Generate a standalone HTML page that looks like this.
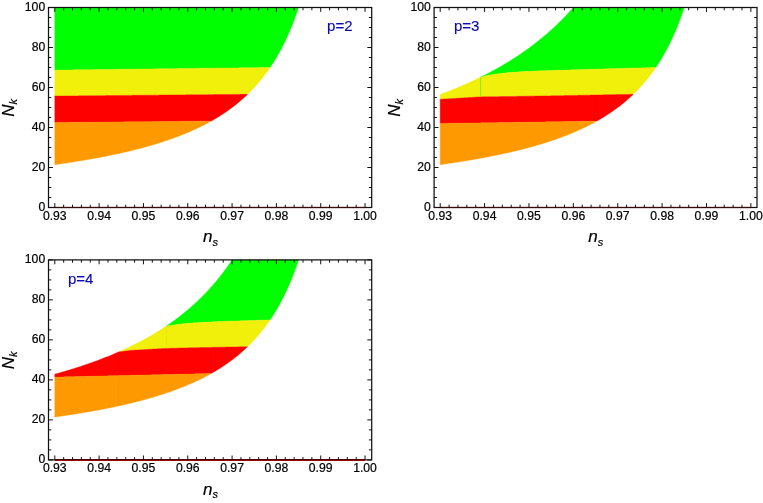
<!DOCTYPE html>
<html><head><meta charset="utf-8"><title>Nk vs ns</title>
<style>
html,body{margin:0;padding:0;background:#fff;}
body{width:763px;height:503px;overflow:hidden;font-family:"Liberation Sans",sans-serif;}
svg{display:block;will-change:transform;opacity:0.999;}
text{font-family:"Liberation Sans",sans-serif;fill:#000;stroke:#000;stroke-width:0.2px;}
.tl{font-size:12.2px;}
.al{font-size:17px;font-style:italic;}
.sub{font-size:11px;}
.pl{font-size:15px;fill:#0a0ab0;stroke:#0a0ab0;stroke-width:0.15px;}
</style></head><body>
<svg width="763" height="503" viewBox="0 0 763 503">
<rect width="763" height="503" fill="#ffffff"/>
<path d="M54.80,7.50 L55.41,7.50 L56.03,7.50 L56.64,7.50 L57.25,7.50 L57.87,7.50 L58.48,7.50 L59.09,7.50 L59.71,7.50 L60.32,7.50 L60.93,7.50 L61.54,7.50 L62.16,7.50 L62.77,7.50 L63.38,7.50 L64.00,7.50 L64.61,7.50 L65.22,7.50 L65.84,7.50 L66.45,7.50 L67.06,7.50 L67.68,7.50 L68.29,7.50 L68.90,7.50 L69.52,7.50 L70.13,7.50 L70.74,7.50 L71.36,7.50 L71.97,7.50 L72.58,7.50 L73.19,7.50 L73.81,7.50 L74.42,7.50 L75.03,7.50 L75.65,7.50 L76.26,7.50 L76.87,7.50 L77.49,7.50 L78.10,7.50 L78.71,7.50 L79.33,7.50 L79.94,7.50 L80.55,7.50 L81.17,7.50 L81.78,7.50 L82.39,7.50 L83.00,7.50 L83.62,7.50 L84.23,7.50 L84.84,7.50 L85.46,7.50 L86.07,7.50 L86.68,7.50 L87.30,7.50 L87.91,7.50 L88.52,7.50 L89.14,7.50 L89.75,7.50 L90.36,7.50 L90.98,7.50 L91.59,7.50 L92.20,7.50 L92.82,7.50 L93.43,7.50 L94.04,7.50 L94.65,7.50 L95.27,7.50 L95.88,7.50 L96.49,7.50 L97.11,7.50 L97.72,7.50 L98.33,7.50 L98.95,7.50 L99.56,7.50 L100.17,7.50 L100.79,7.50 L101.40,7.50 L102.01,7.50 L102.63,7.50 L103.24,7.50 L103.85,7.50 L104.47,7.50 L105.08,7.50 L105.69,7.50 L106.30,7.50 L106.92,7.50 L107.53,7.50 L108.14,7.50 L108.76,7.50 L109.37,7.50 L109.98,7.50 L110.60,7.50 L111.21,7.50 L111.82,7.50 L112.44,7.50 L113.05,7.50 L113.66,7.50 L114.28,7.50 L114.89,7.50 L115.50,7.50 L116.11,7.50 L116.73,7.50 L117.34,7.50 L117.95,7.50 L118.57,7.50 L119.18,7.50 L119.79,7.50 L120.41,7.50 L121.02,7.50 L121.63,7.50 L122.25,7.50 L122.86,7.50 L123.47,7.50 L124.09,7.50 L124.70,7.50 L125.31,7.50 L125.93,7.50 L126.54,7.50 L127.15,7.50 L127.76,7.50 L128.38,7.50 L128.99,7.50 L129.60,7.50 L130.22,7.50 L130.83,7.50 L131.44,7.50 L132.06,7.50 L132.67,7.50 L133.28,7.50 L133.90,7.50 L134.51,7.50 L135.12,7.50 L135.74,7.50 L136.35,7.50 L136.96,7.50 L137.58,7.50 L138.19,7.50 L138.80,7.50 L139.41,7.50 L140.03,7.50 L140.64,7.50 L141.25,7.50 L141.87,7.50 L142.48,7.50 L143.09,7.50 L143.71,7.50 L144.32,7.50 L144.93,7.50 L145.55,7.50 L146.16,7.50 L146.77,7.50 L147.39,7.50 L148.00,7.50 L148.61,7.50 L149.22,7.50 L149.84,7.50 L150.45,7.50 L151.06,7.50 L151.68,7.50 L152.29,7.50 L152.90,7.50 L153.52,7.50 L154.13,7.50 L154.74,7.50 L155.36,7.50 L155.97,7.50 L156.58,7.50 L157.20,7.50 L157.81,7.50 L158.42,7.50 L159.04,7.50 L159.65,7.50 L160.26,7.50 L160.87,7.50 L161.49,7.50 L162.10,7.50 L162.71,7.50 L163.33,7.50 L163.94,7.50 L164.55,7.50 L165.17,7.50 L165.78,7.50 L166.39,7.50 L167.01,7.50 L167.62,7.50 L168.23,7.50 L168.85,7.50 L169.46,7.50 L170.07,7.50 L170.69,7.50 L171.30,7.50 L171.91,7.50 L172.52,7.50 L173.14,7.50 L173.75,7.50 L174.36,7.50 L174.98,7.50 L175.59,7.50 L176.20,7.50 L176.82,7.50 L177.43,7.50 L178.04,7.50 L178.66,7.50 L179.27,7.50 L179.88,7.50 L180.50,7.50 L181.11,7.50 L181.72,7.50 L182.33,7.50 L182.95,7.50 L183.56,7.50 L184.17,7.50 L184.79,7.50 L185.40,7.50 L186.01,7.50 L186.63,7.50 L187.24,7.50 L187.85,7.50 L188.47,7.50 L189.08,7.50 L189.69,7.50 L190.31,7.50 L190.92,7.50 L191.53,7.50 L192.15,7.50 L192.76,7.50 L193.37,7.50 L193.98,7.50 L194.60,7.50 L195.21,7.50 L195.82,7.50 L196.44,7.50 L197.05,7.50 L197.66,7.50 L198.28,7.50 L198.89,7.50 L199.50,7.50 L200.12,7.50 L200.73,7.50 L201.34,7.50 L201.96,7.50 L202.57,7.50 L203.18,7.50 L203.80,7.50 L204.41,7.50 L205.02,7.50 L205.63,7.50 L206.25,7.50 L206.86,7.50 L207.47,7.50 L208.09,7.50 L208.70,7.50 L209.31,7.50 L209.93,7.50 L210.54,7.50 L211.15,7.50 L211.77,7.50 L212.38,7.50 L212.99,7.50 L213.61,7.50 L214.22,7.50 L214.83,7.50 L215.45,7.50 L216.06,7.50 L216.67,7.50 L217.28,7.50 L217.90,7.50 L218.51,7.50 L219.12,7.50 L219.74,7.50 L220.35,7.50 L220.96,7.50 L221.58,7.50 L222.19,7.50 L222.80,7.50 L223.42,7.50 L224.03,7.50 L224.64,7.50 L225.26,7.50 L225.87,7.50 L226.48,7.50 L227.09,7.50 L227.71,7.50 L228.32,7.50 L228.93,7.50 L229.55,7.50 L230.16,7.50 L230.77,7.50 L231.39,7.50 L232.00,7.50 L232.61,7.50 L233.23,7.50 L233.84,7.50 L234.45,7.50 L235.07,7.50 L235.68,7.50 L236.29,7.50 L236.91,7.50 L237.52,7.50 L238.13,7.50 L238.74,7.50 L239.36,7.50 L239.97,7.50 L240.58,7.50 L241.20,7.50 L241.81,7.50 L242.42,7.50 L243.04,7.50 L243.65,7.50 L244.26,7.50 L244.88,7.50 L245.49,7.50 L246.10,7.50 L246.72,7.50 L247.33,7.50 L247.94,7.50 L248.56,7.50 L249.17,7.50 L249.78,7.50 L250.39,7.50 L251.01,7.50 L251.62,7.50 L252.23,7.50 L252.85,7.50 L253.46,7.50 L254.07,7.50 L254.69,7.50 L255.30,7.50 L255.91,7.50 L256.53,7.50 L257.14,7.50 L257.75,7.50 L258.37,7.50 L258.98,7.50 L259.59,7.50 L260.20,7.50 L260.82,7.50 L261.43,7.50 L262.04,7.50 L262.66,7.50 L263.27,7.50 L263.88,7.50 L264.50,7.50 L265.11,7.50 L265.72,7.50 L266.34,7.50 L266.95,7.50 L267.56,7.50 L268.18,7.50 L268.79,7.50 L269.40,7.50 L270.02,7.50 L270.63,7.50 L271.24,7.50 L271.85,7.50 L272.47,7.50 L273.08,7.50 L273.69,7.50 L274.31,7.50 L274.92,7.50 L275.53,7.50 L276.15,7.50 L276.76,7.50 L277.37,7.50 L277.99,7.50 L278.60,7.50 L279.21,7.50 L279.83,7.50 L280.44,7.50 L281.05,7.50 L281.67,7.50 L282.28,7.50 L282.89,7.50 L283.50,7.50 L284.12,7.50 L284.73,7.50 L285.34,7.50 L285.96,7.50 L286.57,7.50 L287.18,7.50 L287.80,7.50 L288.41,7.50 L289.02,7.50 L289.64,7.50 L290.25,7.50 L290.86,7.50 L291.48,7.50 L292.09,7.50 L292.70,7.50 L293.31,7.50 L293.93,7.50 L294.54,7.50 L295.15,7.50 L295.77,7.50 L296.38,7.50 L296.99,7.50 L297.61,7.50 L298.22,7.50 L298.22,8.52 L297.61,10.33 L296.99,12.10 L296.38,13.85 L295.77,15.56 L295.15,17.25 L294.54,18.90 L293.93,20.53 L293.31,22.13 L292.70,23.70 L292.09,25.24 L291.48,26.76 L290.86,28.25 L290.25,29.72 L289.64,31.17 L289.02,32.59 L288.41,33.99 L287.80,35.37 L287.18,36.72 L286.57,38.06 L285.96,39.37 L285.34,40.67 L284.73,41.94 L284.12,43.19 L283.50,44.43 L282.89,45.65 L282.28,46.85 L281.67,48.03 L281.05,49.19 L280.44,50.34 L279.83,51.47 L279.21,52.58 L278.60,53.68 L277.99,54.77 L277.37,55.84 L276.76,56.89 L276.15,57.93 L275.53,58.95 L274.92,59.96 L274.31,60.96 L273.69,61.94 L273.08,62.91 L272.47,63.87 L271.85,64.82 L271.24,65.75 L270.63,66.67 L270.02,67.50 L269.40,67.51 L268.79,67.52 L268.18,67.52 L267.56,67.53 L266.95,67.54 L266.34,67.55 L265.72,67.55 L265.11,67.56 L264.50,67.57 L263.88,67.58 L263.27,67.58 L262.66,67.59 L262.04,67.60 L261.43,67.61 L260.82,67.61 L260.20,67.62 L259.59,67.63 L258.98,67.64 L258.37,67.64 L257.75,67.65 L257.14,67.66 L256.53,67.66 L255.91,67.67 L255.30,67.68 L254.69,67.69 L254.07,67.69 L253.46,67.70 L252.85,67.71 L252.23,67.72 L251.62,67.72 L251.01,67.73 L250.39,67.74 L249.78,67.75 L249.17,67.75 L248.56,67.76 L247.94,67.77 L247.33,67.78 L246.72,67.78 L246.10,67.79 L245.49,67.80 L244.88,67.81 L244.26,67.81 L243.65,67.82 L243.04,67.83 L242.42,67.84 L241.81,67.84 L241.20,67.85 L240.58,67.86 L239.97,67.86 L239.36,67.87 L238.74,67.88 L238.13,67.89 L237.52,67.89 L236.91,67.90 L236.29,67.91 L235.68,67.92 L235.07,67.92 L234.45,67.93 L233.84,67.94 L233.23,67.95 L232.61,67.95 L232.00,67.96 L231.39,67.97 L230.77,67.98 L230.16,67.98 L229.55,67.99 L228.93,68.00 L228.32,68.01 L227.71,68.01 L227.09,68.02 L226.48,68.03 L225.87,68.04 L225.26,68.04 L224.64,68.05 L224.03,68.06 L223.42,68.06 L222.80,68.07 L222.19,68.08 L221.58,68.09 L220.96,68.09 L220.35,68.10 L219.74,68.11 L219.12,68.12 L218.51,68.12 L217.90,68.13 L217.28,68.14 L216.67,68.15 L216.06,68.15 L215.45,68.16 L214.83,68.17 L214.22,68.18 L213.61,68.18 L212.99,68.19 L212.38,68.20 L211.77,68.21 L211.15,68.21 L210.54,68.22 L209.93,68.23 L209.31,68.23 L208.70,68.24 L208.09,68.25 L207.47,68.26 L206.86,68.26 L206.25,68.27 L205.63,68.28 L205.02,68.29 L204.41,68.29 L203.80,68.30 L203.18,68.31 L202.57,68.32 L201.96,68.32 L201.34,68.33 L200.73,68.34 L200.12,68.35 L199.50,68.35 L198.89,68.36 L198.28,68.37 L197.66,68.38 L197.05,68.38 L196.44,68.39 L195.82,68.40 L195.21,68.41 L194.60,68.41 L193.98,68.42 L193.37,68.43 L192.76,68.43 L192.15,68.44 L191.53,68.45 L190.92,68.46 L190.31,68.46 L189.69,68.47 L189.08,68.48 L188.47,68.49 L187.85,68.49 L187.24,68.50 L186.63,68.51 L186.01,68.52 L185.40,68.52 L184.79,68.53 L184.17,68.54 L183.56,68.55 L182.95,68.55 L182.33,68.56 L181.72,68.57 L181.11,68.58 L180.50,68.58 L179.88,68.59 L179.27,68.60 L178.66,68.60 L178.04,68.61 L177.43,68.62 L176.82,68.63 L176.20,68.63 L175.59,68.64 L174.98,68.65 L174.36,68.66 L173.75,68.66 L173.14,68.67 L172.52,68.68 L171.91,68.69 L171.30,68.69 L170.69,68.70 L170.07,68.71 L169.46,68.72 L168.85,68.72 L168.23,68.73 L167.62,68.74 L167.01,68.75 L166.39,68.75 L165.78,68.76 L165.17,68.77 L164.55,68.78 L163.94,68.78 L163.33,68.79 L162.71,68.80 L162.10,68.80 L161.49,68.81 L160.87,68.82 L160.26,68.83 L159.65,68.83 L159.04,68.84 L158.42,68.85 L157.81,68.86 L157.20,68.86 L156.58,68.87 L155.97,68.88 L155.36,68.89 L154.74,68.89 L154.13,68.90 L153.52,68.91 L152.90,68.92 L152.29,68.92 L151.68,68.93 L151.06,68.94 L150.45,68.95 L149.84,68.95 L149.22,68.96 L148.61,68.97 L148.00,68.98 L147.39,68.98 L146.77,68.99 L146.16,69.00 L145.55,69.00 L144.93,69.01 L144.32,69.02 L143.71,69.03 L143.09,69.03 L142.48,69.04 L141.87,69.05 L141.25,69.06 L140.64,69.06 L140.03,69.07 L139.41,69.08 L138.80,69.09 L138.19,69.09 L137.58,69.10 L136.96,69.11 L136.35,69.12 L135.74,69.12 L135.12,69.13 L134.51,69.14 L133.90,69.15 L133.28,69.15 L132.67,69.16 L132.06,69.17 L131.44,69.17 L130.83,69.18 L130.22,69.19 L129.60,69.20 L128.99,69.20 L128.38,69.21 L127.76,69.22 L127.15,69.23 L126.54,69.23 L125.93,69.24 L125.31,69.25 L124.70,69.26 L124.09,69.26 L123.47,69.27 L122.86,69.28 L122.25,69.29 L121.63,69.29 L121.02,69.30 L120.41,69.31 L119.79,69.32 L119.18,69.32 L118.57,69.33 L117.95,69.34 L117.34,69.35 L116.73,69.35 L116.11,69.36 L115.50,69.37 L114.89,69.37 L114.28,69.38 L113.66,69.39 L113.05,69.40 L112.44,69.40 L111.82,69.41 L111.21,69.42 L110.60,69.43 L109.98,69.43 L109.37,69.44 L108.76,69.45 L108.14,69.46 L107.53,69.46 L106.92,69.47 L106.30,69.48 L105.69,69.49 L105.08,69.49 L104.47,69.50 L103.85,69.51 L103.24,69.52 L102.63,69.52 L102.01,69.53 L101.40,69.54 L100.79,69.54 L100.17,69.55 L99.56,69.56 L98.95,69.57 L98.33,69.57 L97.72,69.58 L97.11,69.59 L96.49,69.60 L95.88,69.60 L95.27,69.61 L94.65,69.62 L94.04,69.63 L93.43,69.63 L92.82,69.64 L92.20,69.65 L91.59,69.66 L90.98,69.66 L90.36,69.67 L89.75,69.68 L89.14,69.69 L88.52,69.69 L87.91,69.70 L87.30,69.71 L86.68,69.72 L86.07,69.72 L85.46,69.73 L84.84,69.74 L84.23,69.74 L83.62,69.75 L83.00,69.76 L82.39,69.77 L81.78,69.77 L81.17,69.78 L80.55,69.79 L79.94,69.80 L79.33,69.80 L78.71,69.81 L78.10,69.82 L77.49,69.83 L76.87,69.83 L76.26,69.84 L75.65,69.85 L75.03,69.86 L74.42,69.86 L73.81,69.87 L73.19,69.88 L72.58,69.89 L71.97,69.89 L71.36,69.90 L70.74,69.91 L70.13,69.91 L69.52,69.92 L68.90,69.93 L68.29,69.94 L67.68,69.94 L67.06,69.95 L66.45,69.96 L65.84,69.97 L65.22,69.97 L64.61,69.98 L64.00,69.99 L63.38,70.00 L62.77,70.00 L62.16,70.01 L61.54,70.02 L60.93,70.03 L60.32,70.03 L59.71,70.04 L59.09,70.05 L58.48,70.06 L57.87,70.06 L57.25,70.07 L56.64,70.08 L56.03,70.09 L55.41,70.09 L54.80,70.10Z" fill="#00ff00" stroke="#00ff00" stroke-width="0.4"/>
<path d="M54.80,70.10 L55.41,70.09 L56.03,70.09 L56.64,70.08 L57.25,70.07 L57.87,70.06 L58.48,70.06 L59.09,70.05 L59.71,70.04 L60.32,70.03 L60.93,70.03 L61.54,70.02 L62.16,70.01 L62.77,70.00 L63.38,70.00 L64.00,69.99 L64.61,69.98 L65.22,69.97 L65.84,69.97 L66.45,69.96 L67.06,69.95 L67.68,69.94 L68.29,69.94 L68.90,69.93 L69.52,69.92 L70.13,69.91 L70.74,69.91 L71.36,69.90 L71.97,69.89 L72.58,69.89 L73.19,69.88 L73.81,69.87 L74.42,69.86 L75.03,69.86 L75.65,69.85 L76.26,69.84 L76.87,69.83 L77.49,69.83 L78.10,69.82 L78.71,69.81 L79.33,69.80 L79.94,69.80 L80.55,69.79 L81.17,69.78 L81.78,69.77 L82.39,69.77 L83.00,69.76 L83.62,69.75 L84.23,69.74 L84.84,69.74 L85.46,69.73 L86.07,69.72 L86.68,69.72 L87.30,69.71 L87.91,69.70 L88.52,69.69 L89.14,69.69 L89.75,69.68 L90.36,69.67 L90.98,69.66 L91.59,69.66 L92.20,69.65 L92.82,69.64 L93.43,69.63 L94.04,69.63 L94.65,69.62 L95.27,69.61 L95.88,69.60 L96.49,69.60 L97.11,69.59 L97.72,69.58 L98.33,69.57 L98.95,69.57 L99.56,69.56 L100.17,69.55 L100.79,69.54 L101.40,69.54 L102.01,69.53 L102.63,69.52 L103.24,69.52 L103.85,69.51 L104.47,69.50 L105.08,69.49 L105.69,69.49 L106.30,69.48 L106.92,69.47 L107.53,69.46 L108.14,69.46 L108.76,69.45 L109.37,69.44 L109.98,69.43 L110.60,69.43 L111.21,69.42 L111.82,69.41 L112.44,69.40 L113.05,69.40 L113.66,69.39 L114.28,69.38 L114.89,69.37 L115.50,69.37 L116.11,69.36 L116.73,69.35 L117.34,69.35 L117.95,69.34 L118.57,69.33 L119.18,69.32 L119.79,69.32 L120.41,69.31 L121.02,69.30 L121.63,69.29 L122.25,69.29 L122.86,69.28 L123.47,69.27 L124.09,69.26 L124.70,69.26 L125.31,69.25 L125.93,69.24 L126.54,69.23 L127.15,69.23 L127.76,69.22 L128.38,69.21 L128.99,69.20 L129.60,69.20 L130.22,69.19 L130.83,69.18 L131.44,69.17 L132.06,69.17 L132.67,69.16 L133.28,69.15 L133.90,69.15 L134.51,69.14 L135.12,69.13 L135.74,69.12 L136.35,69.12 L136.96,69.11 L137.58,69.10 L138.19,69.09 L138.80,69.09 L139.41,69.08 L140.03,69.07 L140.64,69.06 L141.25,69.06 L141.87,69.05 L142.48,69.04 L143.09,69.03 L143.71,69.03 L144.32,69.02 L144.93,69.01 L145.55,69.00 L146.16,69.00 L146.77,68.99 L147.39,68.98 L148.00,68.98 L148.61,68.97 L149.22,68.96 L149.84,68.95 L150.45,68.95 L151.06,68.94 L151.68,68.93 L152.29,68.92 L152.90,68.92 L153.52,68.91 L154.13,68.90 L154.74,68.89 L155.36,68.89 L155.97,68.88 L156.58,68.87 L157.20,68.86 L157.81,68.86 L158.42,68.85 L159.04,68.84 L159.65,68.83 L160.26,68.83 L160.87,68.82 L161.49,68.81 L162.10,68.80 L162.71,68.80 L163.33,68.79 L163.94,68.78 L164.55,68.78 L165.17,68.77 L165.78,68.76 L166.39,68.75 L167.01,68.75 L167.62,68.74 L168.23,68.73 L168.85,68.72 L169.46,68.72 L170.07,68.71 L170.69,68.70 L171.30,68.69 L171.91,68.69 L172.52,68.68 L173.14,68.67 L173.75,68.66 L174.36,68.66 L174.98,68.65 L175.59,68.64 L176.20,68.63 L176.82,68.63 L177.43,68.62 L178.04,68.61 L178.66,68.60 L179.27,68.60 L179.88,68.59 L180.50,68.58 L181.11,68.58 L181.72,68.57 L182.33,68.56 L182.95,68.55 L183.56,68.55 L184.17,68.54 L184.79,68.53 L185.40,68.52 L186.01,68.52 L186.63,68.51 L187.24,68.50 L187.85,68.49 L188.47,68.49 L189.08,68.48 L189.69,68.47 L190.31,68.46 L190.92,68.46 L191.53,68.45 L192.15,68.44 L192.76,68.43 L193.37,68.43 L193.98,68.42 L194.60,68.41 L195.21,68.41 L195.82,68.40 L196.44,68.39 L197.05,68.38 L197.66,68.38 L198.28,68.37 L198.89,68.36 L199.50,68.35 L200.12,68.35 L200.73,68.34 L201.34,68.33 L201.96,68.32 L202.57,68.32 L203.18,68.31 L203.80,68.30 L204.41,68.29 L205.02,68.29 L205.63,68.28 L206.25,68.27 L206.86,68.26 L207.47,68.26 L208.09,68.25 L208.70,68.24 L209.31,68.23 L209.93,68.23 L210.54,68.22 L211.15,68.21 L211.77,68.21 L212.38,68.20 L212.99,68.19 L213.61,68.18 L214.22,68.18 L214.83,68.17 L215.45,68.16 L216.06,68.15 L216.67,68.15 L217.28,68.14 L217.90,68.13 L218.51,68.12 L219.12,68.12 L219.74,68.11 L220.35,68.10 L220.96,68.09 L221.58,68.09 L222.19,68.08 L222.80,68.07 L223.42,68.06 L224.03,68.06 L224.64,68.05 L225.26,68.04 L225.87,68.04 L226.48,68.03 L227.09,68.02 L227.71,68.01 L228.32,68.01 L228.93,68.00 L229.55,67.99 L230.16,67.98 L230.77,67.98 L231.39,67.97 L232.00,67.96 L232.61,67.95 L233.23,67.95 L233.84,67.94 L234.45,67.93 L235.07,67.92 L235.68,67.92 L236.29,67.91 L236.91,67.90 L237.52,67.89 L238.13,67.89 L238.74,67.88 L239.36,67.87 L239.97,67.86 L240.58,67.86 L241.20,67.85 L241.81,67.84 L242.42,67.84 L243.04,67.83 L243.65,67.82 L244.26,67.81 L244.88,67.81 L245.49,67.80 L246.10,67.79 L246.72,67.78 L247.33,67.78 L247.94,67.77 L248.56,67.76 L249.17,67.75 L249.78,67.75 L250.39,67.74 L251.01,67.73 L251.62,67.72 L252.23,67.72 L252.85,67.71 L253.46,67.70 L254.07,67.69 L254.69,67.69 L255.30,67.68 L255.91,67.67 L256.53,67.66 L257.14,67.66 L257.75,67.65 L258.37,67.64 L258.98,67.64 L259.59,67.63 L260.20,67.62 L260.82,67.61 L261.43,67.61 L262.04,67.60 L262.66,67.59 L263.27,67.58 L263.88,67.58 L264.50,67.57 L265.11,67.56 L265.72,67.55 L266.34,67.55 L266.95,67.54 L267.56,67.53 L268.18,67.52 L268.79,67.52 L269.40,67.51 L270.02,67.50 L270.02,67.58 L269.40,68.48 L268.79,69.36 L268.18,70.24 L267.56,71.10 L266.95,71.95 L266.34,72.79 L265.72,73.63 L265.11,74.45 L264.50,75.26 L263.88,76.06 L263.27,76.85 L262.66,77.63 L262.04,78.41 L261.43,79.17 L260.82,79.93 L260.20,80.67 L259.59,81.41 L258.98,82.14 L258.37,82.86 L257.75,83.57 L257.14,84.28 L256.53,84.97 L255.91,85.66 L255.30,86.34 L254.69,87.01 L254.07,87.68 L253.46,88.34 L252.85,88.99 L252.23,89.63 L251.62,90.27 L251.01,90.90 L250.39,91.53 L249.78,92.14 L249.17,92.75 L248.56,93.36 L247.94,93.95 L247.33,94.30 L246.72,94.31 L246.10,94.31 L245.49,94.32 L244.88,94.33 L244.26,94.33 L243.65,94.34 L243.04,94.34 L242.42,94.35 L241.81,94.35 L241.20,94.36 L240.58,94.37 L239.97,94.37 L239.36,94.38 L238.74,94.38 L238.13,94.39 L237.52,94.39 L236.91,94.40 L236.29,94.41 L235.68,94.41 L235.07,94.42 L234.45,94.42 L233.84,94.43 L233.23,94.43 L232.61,94.44 L232.00,94.45 L231.39,94.45 L230.77,94.46 L230.16,94.46 L229.55,94.47 L228.93,94.47 L228.32,94.48 L227.71,94.49 L227.09,94.49 L226.48,94.50 L225.87,94.50 L225.26,94.51 L224.64,94.51 L224.03,94.52 L223.42,94.53 L222.80,94.53 L222.19,94.54 L221.58,94.54 L220.96,94.55 L220.35,94.55 L219.74,94.56 L219.12,94.57 L218.51,94.57 L217.90,94.58 L217.28,94.58 L216.67,94.59 L216.06,94.59 L215.45,94.60 L214.83,94.61 L214.22,94.61 L213.61,94.62 L212.99,94.62 L212.38,94.63 L211.77,94.63 L211.15,94.64 L210.54,94.65 L209.93,94.65 L209.31,94.66 L208.70,94.66 L208.09,94.67 L207.47,94.67 L206.86,94.68 L206.25,94.69 L205.63,94.69 L205.02,94.70 L204.41,94.70 L203.80,94.71 L203.18,94.71 L202.57,94.72 L201.96,94.73 L201.34,94.73 L200.73,94.74 L200.12,94.74 L199.50,94.75 L198.89,94.75 L198.28,94.76 L197.66,94.77 L197.05,94.77 L196.44,94.78 L195.82,94.78 L195.21,94.79 L194.60,94.79 L193.98,94.80 L193.37,94.81 L192.76,94.81 L192.15,94.82 L191.53,94.82 L190.92,94.83 L190.31,94.83 L189.69,94.84 L189.08,94.85 L188.47,94.85 L187.85,94.86 L187.24,94.86 L186.63,94.87 L186.01,94.87 L185.40,94.88 L184.79,94.89 L184.17,94.89 L183.56,94.90 L182.95,94.90 L182.33,94.91 L181.72,94.91 L181.11,94.92 L180.50,94.93 L179.88,94.93 L179.27,94.94 L178.66,94.94 L178.04,94.95 L177.43,94.96 L176.82,94.96 L176.20,94.97 L175.59,94.97 L174.98,94.98 L174.36,94.98 L173.75,94.99 L173.14,95.00 L172.52,95.00 L171.91,95.01 L171.30,95.01 L170.69,95.02 L170.07,95.02 L169.46,95.03 L168.85,95.04 L168.23,95.04 L167.62,95.05 L167.01,95.05 L166.39,95.06 L165.78,95.06 L165.17,95.07 L164.55,95.08 L163.94,95.08 L163.33,95.09 L162.71,95.09 L162.10,95.10 L161.49,95.10 L160.87,95.11 L160.26,95.12 L159.65,95.12 L159.04,95.13 L158.42,95.13 L157.81,95.14 L157.20,95.14 L156.58,95.15 L155.97,95.16 L155.36,95.16 L154.74,95.17 L154.13,95.17 L153.52,95.18 L152.90,95.18 L152.29,95.19 L151.68,95.20 L151.06,95.20 L150.45,95.21 L149.84,95.21 L149.22,95.22 L148.61,95.22 L148.00,95.23 L147.39,95.24 L146.77,95.24 L146.16,95.25 L145.55,95.25 L144.93,95.26 L144.32,95.26 L143.71,95.27 L143.09,95.28 L142.48,95.28 L141.87,95.29 L141.25,95.29 L140.64,95.30 L140.03,95.30 L139.41,95.31 L138.80,95.32 L138.19,95.32 L137.58,95.33 L136.96,95.33 L136.35,95.34 L135.74,95.34 L135.12,95.35 L134.51,95.36 L133.90,95.36 L133.28,95.37 L132.67,95.37 L132.06,95.38 L131.44,95.38 L130.83,95.39 L130.22,95.40 L129.60,95.40 L128.99,95.41 L128.38,95.41 L127.76,95.42 L127.15,95.42 L126.54,95.43 L125.93,95.44 L125.31,95.44 L124.70,95.45 L124.09,95.45 L123.47,95.46 L122.86,95.46 L122.25,95.47 L121.63,95.48 L121.02,95.48 L120.41,95.49 L119.79,95.49 L119.18,95.50 L118.57,95.50 L117.95,95.51 L117.34,95.52 L116.73,95.52 L116.11,95.53 L115.50,95.53 L114.89,95.54 L114.28,95.54 L113.66,95.55 L113.05,95.56 L112.44,95.56 L111.82,95.57 L111.21,95.57 L110.60,95.58 L109.98,95.58 L109.37,95.59 L108.76,95.60 L108.14,95.60 L107.53,95.61 L106.92,95.61 L106.30,95.62 L105.69,95.62 L105.08,95.63 L104.47,95.64 L103.85,95.64 L103.24,95.65 L102.63,95.65 L102.01,95.66 L101.40,95.66 L100.79,95.67 L100.17,95.68 L99.56,95.68 L98.95,95.69 L98.33,95.69 L97.72,95.70 L97.11,95.70 L96.49,95.71 L95.88,95.72 L95.27,95.72 L94.65,95.73 L94.04,95.73 L93.43,95.74 L92.82,95.75 L92.20,95.75 L91.59,95.76 L90.98,95.76 L90.36,95.77 L89.75,95.77 L89.14,95.78 L88.52,95.79 L87.91,95.79 L87.30,95.80 L86.68,95.80 L86.07,95.81 L85.46,95.81 L84.84,95.82 L84.23,95.83 L83.62,95.83 L83.00,95.84 L82.39,95.84 L81.78,95.85 L81.17,95.85 L80.55,95.86 L79.94,95.87 L79.33,95.87 L78.71,95.88 L78.10,95.88 L77.49,95.89 L76.87,95.89 L76.26,95.90 L75.65,95.91 L75.03,95.91 L74.42,95.92 L73.81,95.92 L73.19,95.93 L72.58,95.93 L71.97,95.94 L71.36,95.95 L70.74,95.95 L70.13,95.96 L69.52,95.96 L68.90,95.97 L68.29,95.97 L67.68,95.98 L67.06,95.99 L66.45,95.99 L65.84,96.00 L65.22,96.00 L64.61,96.01 L64.00,96.01 L63.38,96.02 L62.77,96.03 L62.16,96.03 L61.54,96.04 L60.93,96.04 L60.32,96.05 L59.71,96.05 L59.09,96.06 L58.48,96.07 L57.87,96.07 L57.25,96.08 L56.64,96.08 L56.03,96.09 L55.41,96.09 L54.80,96.10Z" fill="#f0f00a" stroke="#f0f00a" stroke-width="0.4"/>
<path d="M54.80,96.10 L55.41,96.09 L56.03,96.09 L56.64,96.08 L57.25,96.08 L57.87,96.07 L58.48,96.07 L59.09,96.06 L59.71,96.05 L60.32,96.05 L60.93,96.04 L61.54,96.04 L62.16,96.03 L62.77,96.03 L63.38,96.02 L64.00,96.01 L64.61,96.01 L65.22,96.00 L65.84,96.00 L66.45,95.99 L67.06,95.99 L67.68,95.98 L68.29,95.97 L68.90,95.97 L69.52,95.96 L70.13,95.96 L70.74,95.95 L71.36,95.95 L71.97,95.94 L72.58,95.93 L73.19,95.93 L73.81,95.92 L74.42,95.92 L75.03,95.91 L75.65,95.91 L76.26,95.90 L76.87,95.89 L77.49,95.89 L78.10,95.88 L78.71,95.88 L79.33,95.87 L79.94,95.87 L80.55,95.86 L81.17,95.85 L81.78,95.85 L82.39,95.84 L83.00,95.84 L83.62,95.83 L84.23,95.83 L84.84,95.82 L85.46,95.81 L86.07,95.81 L86.68,95.80 L87.30,95.80 L87.91,95.79 L88.52,95.79 L89.14,95.78 L89.75,95.77 L90.36,95.77 L90.98,95.76 L91.59,95.76 L92.20,95.75 L92.82,95.75 L93.43,95.74 L94.04,95.73 L94.65,95.73 L95.27,95.72 L95.88,95.72 L96.49,95.71 L97.11,95.70 L97.72,95.70 L98.33,95.69 L98.95,95.69 L99.56,95.68 L100.17,95.68 L100.79,95.67 L101.40,95.66 L102.01,95.66 L102.63,95.65 L103.24,95.65 L103.85,95.64 L104.47,95.64 L105.08,95.63 L105.69,95.62 L106.30,95.62 L106.92,95.61 L107.53,95.61 L108.14,95.60 L108.76,95.60 L109.37,95.59 L109.98,95.58 L110.60,95.58 L111.21,95.57 L111.82,95.57 L112.44,95.56 L113.05,95.56 L113.66,95.55 L114.28,95.54 L114.89,95.54 L115.50,95.53 L116.11,95.53 L116.73,95.52 L117.34,95.52 L117.95,95.51 L118.57,95.50 L119.18,95.50 L119.79,95.49 L120.41,95.49 L121.02,95.48 L121.63,95.48 L122.25,95.47 L122.86,95.46 L123.47,95.46 L124.09,95.45 L124.70,95.45 L125.31,95.44 L125.93,95.44 L126.54,95.43 L127.15,95.42 L127.76,95.42 L128.38,95.41 L128.99,95.41 L129.60,95.40 L130.22,95.40 L130.83,95.39 L131.44,95.38 L132.06,95.38 L132.67,95.37 L133.28,95.37 L133.90,95.36 L134.51,95.36 L135.12,95.35 L135.74,95.34 L136.35,95.34 L136.96,95.33 L137.58,95.33 L138.19,95.32 L138.80,95.32 L139.41,95.31 L140.03,95.30 L140.64,95.30 L141.25,95.29 L141.87,95.29 L142.48,95.28 L143.09,95.28 L143.71,95.27 L144.32,95.26 L144.93,95.26 L145.55,95.25 L146.16,95.25 L146.77,95.24 L147.39,95.24 L148.00,95.23 L148.61,95.22 L149.22,95.22 L149.84,95.21 L150.45,95.21 L151.06,95.20 L151.68,95.20 L152.29,95.19 L152.90,95.18 L153.52,95.18 L154.13,95.17 L154.74,95.17 L155.36,95.16 L155.97,95.16 L156.58,95.15 L157.20,95.14 L157.81,95.14 L158.42,95.13 L159.04,95.13 L159.65,95.12 L160.26,95.12 L160.87,95.11 L161.49,95.10 L162.10,95.10 L162.71,95.09 L163.33,95.09 L163.94,95.08 L164.55,95.08 L165.17,95.07 L165.78,95.06 L166.39,95.06 L167.01,95.05 L167.62,95.05 L168.23,95.04 L168.85,95.04 L169.46,95.03 L170.07,95.02 L170.69,95.02 L171.30,95.01 L171.91,95.01 L172.52,95.00 L173.14,95.00 L173.75,94.99 L174.36,94.98 L174.98,94.98 L175.59,94.97 L176.20,94.97 L176.82,94.96 L177.43,94.96 L178.04,94.95 L178.66,94.94 L179.27,94.94 L179.88,94.93 L180.50,94.93 L181.11,94.92 L181.72,94.91 L182.33,94.91 L182.95,94.90 L183.56,94.90 L184.17,94.89 L184.79,94.89 L185.40,94.88 L186.01,94.87 L186.63,94.87 L187.24,94.86 L187.85,94.86 L188.47,94.85 L189.08,94.85 L189.69,94.84 L190.31,94.83 L190.92,94.83 L191.53,94.82 L192.15,94.82 L192.76,94.81 L193.37,94.81 L193.98,94.80 L194.60,94.79 L195.21,94.79 L195.82,94.78 L196.44,94.78 L197.05,94.77 L197.66,94.77 L198.28,94.76 L198.89,94.75 L199.50,94.75 L200.12,94.74 L200.73,94.74 L201.34,94.73 L201.96,94.73 L202.57,94.72 L203.18,94.71 L203.80,94.71 L204.41,94.70 L205.02,94.70 L205.63,94.69 L206.25,94.69 L206.86,94.68 L207.47,94.67 L208.09,94.67 L208.70,94.66 L209.31,94.66 L209.93,94.65 L210.54,94.65 L211.15,94.64 L211.77,94.63 L212.38,94.63 L212.99,94.62 L213.61,94.62 L214.22,94.61 L214.83,94.61 L215.45,94.60 L216.06,94.59 L216.67,94.59 L217.28,94.58 L217.90,94.58 L218.51,94.57 L219.12,94.57 L219.74,94.56 L220.35,94.55 L220.96,94.55 L221.58,94.54 L222.19,94.54 L222.80,94.53 L223.42,94.53 L224.03,94.52 L224.64,94.51 L225.26,94.51 L225.87,94.50 L226.48,94.50 L227.09,94.49 L227.71,94.49 L228.32,94.48 L228.93,94.47 L229.55,94.47 L230.16,94.46 L230.77,94.46 L231.39,94.45 L232.00,94.45 L232.61,94.44 L233.23,94.43 L233.84,94.43 L234.45,94.42 L235.07,94.42 L235.68,94.41 L236.29,94.41 L236.91,94.40 L237.52,94.39 L238.13,94.39 L238.74,94.38 L239.36,94.38 L239.97,94.37 L240.58,94.37 L241.20,94.36 L241.81,94.35 L242.42,94.35 L243.04,94.34 L243.65,94.34 L244.26,94.33 L244.88,94.33 L245.49,94.32 L246.10,94.31 L246.72,94.31 L247.33,94.30 L247.33,94.55 L246.72,95.13 L246.10,95.71 L245.49,96.28 L244.88,96.85 L244.26,97.41 L243.65,97.97 L243.04,98.52 L242.42,99.06 L241.81,99.60 L241.20,100.14 L240.58,100.67 L239.97,101.19 L239.36,101.71 L238.74,102.22 L238.13,102.73 L237.52,103.24 L236.91,103.73 L236.29,104.23 L235.68,104.72 L235.07,105.20 L234.45,105.68 L233.84,106.16 L233.23,106.63 L232.61,107.10 L232.00,107.56 L231.39,108.02 L230.77,108.47 L230.16,108.92 L229.55,109.37 L228.93,109.81 L228.32,110.25 L227.71,110.68 L227.09,111.11 L226.48,111.54 L225.87,111.96 L225.26,112.38 L224.64,112.80 L224.03,113.21 L223.42,113.62 L222.80,114.02 L222.19,114.42 L221.58,114.82 L220.96,115.22 L220.35,115.61 L219.74,115.99 L219.12,116.38 L218.51,116.76 L217.90,117.14 L217.28,117.51 L216.67,117.89 L216.06,118.25 L215.45,118.62 L214.83,118.98 L214.22,119.34 L213.61,119.70 L212.99,120.05 L212.38,120.40 L211.77,120.75 L211.15,121.10 L210.54,121.11 L209.93,121.11 L209.31,121.12 L208.70,121.12 L208.09,121.13 L207.47,121.13 L206.86,121.14 L206.25,121.14 L205.63,121.15 L205.02,121.16 L204.41,121.16 L203.80,121.17 L203.18,121.17 L202.57,121.18 L201.96,121.18 L201.34,121.19 L200.73,121.19 L200.12,121.20 L199.50,121.21 L198.89,121.21 L198.28,121.22 L197.66,121.22 L197.05,121.23 L196.44,121.23 L195.82,121.24 L195.21,121.24 L194.60,121.25 L193.98,121.25 L193.37,121.26 L192.76,121.27 L192.15,121.27 L191.53,121.28 L190.92,121.28 L190.31,121.29 L189.69,121.29 L189.08,121.30 L188.47,121.30 L187.85,121.31 L187.24,121.31 L186.63,121.32 L186.01,121.33 L185.40,121.33 L184.79,121.34 L184.17,121.34 L183.56,121.35 L182.95,121.35 L182.33,121.36 L181.72,121.36 L181.11,121.37 L180.50,121.38 L179.88,121.38 L179.27,121.39 L178.66,121.39 L178.04,121.40 L177.43,121.40 L176.82,121.41 L176.20,121.41 L175.59,121.42 L174.98,121.42 L174.36,121.43 L173.75,121.44 L173.14,121.44 L172.52,121.45 L171.91,121.45 L171.30,121.46 L170.69,121.46 L170.07,121.47 L169.46,121.47 L168.85,121.48 L168.23,121.48 L167.62,121.49 L167.01,121.50 L166.39,121.50 L165.78,121.51 L165.17,121.51 L164.55,121.52 L163.94,121.52 L163.33,121.53 L162.71,121.53 L162.10,121.54 L161.49,121.55 L160.87,121.55 L160.26,121.56 L159.65,121.56 L159.04,121.57 L158.42,121.57 L157.81,121.58 L157.20,121.58 L156.58,121.59 L155.97,121.59 L155.36,121.60 L154.74,121.61 L154.13,121.61 L153.52,121.62 L152.90,121.62 L152.29,121.63 L151.68,121.63 L151.06,121.64 L150.45,121.64 L149.84,121.65 L149.22,121.66 L148.61,121.66 L148.00,121.67 L147.39,121.67 L146.77,121.68 L146.16,121.68 L145.55,121.69 L144.93,121.69 L144.32,121.70 L143.71,121.70 L143.09,121.71 L142.48,121.72 L141.87,121.72 L141.25,121.73 L140.64,121.73 L140.03,121.74 L139.41,121.74 L138.80,121.75 L138.19,121.75 L137.58,121.76 L136.96,121.76 L136.35,121.77 L135.74,121.78 L135.12,121.78 L134.51,121.79 L133.90,121.79 L133.28,121.80 L132.67,121.80 L132.06,121.81 L131.44,121.81 L130.83,121.82 L130.22,121.83 L129.60,121.83 L128.99,121.84 L128.38,121.84 L127.76,121.85 L127.15,121.85 L126.54,121.86 L125.93,121.86 L125.31,121.87 L124.70,121.87 L124.09,121.88 L123.47,121.89 L122.86,121.89 L122.25,121.90 L121.63,121.90 L121.02,121.91 L120.41,121.91 L119.79,121.92 L119.18,121.92 L118.57,121.93 L117.95,121.93 L117.34,121.94 L116.73,121.95 L116.11,121.95 L115.50,121.96 L114.89,121.96 L114.28,121.97 L113.66,121.97 L113.05,121.98 L112.44,121.98 L111.82,121.99 L111.21,122.00 L110.60,122.00 L109.98,122.01 L109.37,122.01 L108.76,122.02 L108.14,122.02 L107.53,122.03 L106.92,122.03 L106.30,122.04 L105.69,122.04 L105.08,122.05 L104.47,122.06 L103.85,122.06 L103.24,122.07 L102.63,122.07 L102.01,122.08 L101.40,122.08 L100.79,122.09 L100.17,122.09 L99.56,122.10 L98.95,122.10 L98.33,122.11 L97.72,122.12 L97.11,122.12 L96.49,122.13 L95.88,122.13 L95.27,122.14 L94.65,122.14 L94.04,122.15 L93.43,122.15 L92.82,122.16 L92.20,122.17 L91.59,122.17 L90.98,122.18 L90.36,122.18 L89.75,122.19 L89.14,122.19 L88.52,122.20 L87.91,122.20 L87.30,122.21 L86.68,122.21 L86.07,122.22 L85.46,122.23 L84.84,122.23 L84.23,122.24 L83.62,122.24 L83.00,122.25 L82.39,122.25 L81.78,122.26 L81.17,122.26 L80.55,122.27 L79.94,122.28 L79.33,122.28 L78.71,122.29 L78.10,122.29 L77.49,122.30 L76.87,122.30 L76.26,122.31 L75.65,122.31 L75.03,122.32 L74.42,122.32 L73.81,122.33 L73.19,122.34 L72.58,122.34 L71.97,122.35 L71.36,122.35 L70.74,122.36 L70.13,122.36 L69.52,122.37 L68.90,122.37 L68.29,122.38 L67.68,122.38 L67.06,122.39 L66.45,122.40 L65.84,122.40 L65.22,122.41 L64.61,122.41 L64.00,122.42 L63.38,122.42 L62.77,122.43 L62.16,122.43 L61.54,122.44 L60.93,122.45 L60.32,122.45 L59.71,122.46 L59.09,122.46 L58.48,122.47 L57.87,122.47 L57.25,122.48 L56.64,122.48 L56.03,122.49 L55.41,122.49 L54.80,122.50Z" fill="#ff0000" stroke="#ff0000" stroke-width="0.4"/>
<path d="M54.80,122.50 L55.41,122.49 L56.03,122.49 L56.64,122.48 L57.25,122.48 L57.87,122.47 L58.48,122.47 L59.09,122.46 L59.71,122.46 L60.32,122.45 L60.93,122.45 L61.54,122.44 L62.16,122.43 L62.77,122.43 L63.38,122.42 L64.00,122.42 L64.61,122.41 L65.22,122.41 L65.84,122.40 L66.45,122.40 L67.06,122.39 L67.68,122.38 L68.29,122.38 L68.90,122.37 L69.52,122.37 L70.13,122.36 L70.74,122.36 L71.36,122.35 L71.97,122.35 L72.58,122.34 L73.19,122.34 L73.81,122.33 L74.42,122.32 L75.03,122.32 L75.65,122.31 L76.26,122.31 L76.87,122.30 L77.49,122.30 L78.10,122.29 L78.71,122.29 L79.33,122.28 L79.94,122.28 L80.55,122.27 L81.17,122.26 L81.78,122.26 L82.39,122.25 L83.00,122.25 L83.62,122.24 L84.23,122.24 L84.84,122.23 L85.46,122.23 L86.07,122.22 L86.68,122.21 L87.30,122.21 L87.91,122.20 L88.52,122.20 L89.14,122.19 L89.75,122.19 L90.36,122.18 L90.98,122.18 L91.59,122.17 L92.20,122.17 L92.82,122.16 L93.43,122.15 L94.04,122.15 L94.65,122.14 L95.27,122.14 L95.88,122.13 L96.49,122.13 L97.11,122.12 L97.72,122.12 L98.33,122.11 L98.95,122.10 L99.56,122.10 L100.17,122.09 L100.79,122.09 L101.40,122.08 L102.01,122.08 L102.63,122.07 L103.24,122.07 L103.85,122.06 L104.47,122.06 L105.08,122.05 L105.69,122.04 L106.30,122.04 L106.92,122.03 L107.53,122.03 L108.14,122.02 L108.76,122.02 L109.37,122.01 L109.98,122.01 L110.60,122.00 L111.21,122.00 L111.82,121.99 L112.44,121.98 L113.05,121.98 L113.66,121.97 L114.28,121.97 L114.89,121.96 L115.50,121.96 L116.11,121.95 L116.73,121.95 L117.34,121.94 L117.95,121.93 L118.57,121.93 L119.18,121.92 L119.79,121.92 L120.41,121.91 L121.02,121.91 L121.63,121.90 L122.25,121.90 L122.86,121.89 L123.47,121.89 L124.09,121.88 L124.70,121.87 L125.31,121.87 L125.93,121.86 L126.54,121.86 L127.15,121.85 L127.76,121.85 L128.38,121.84 L128.99,121.84 L129.60,121.83 L130.22,121.83 L130.83,121.82 L131.44,121.81 L132.06,121.81 L132.67,121.80 L133.28,121.80 L133.90,121.79 L134.51,121.79 L135.12,121.78 L135.74,121.78 L136.35,121.77 L136.96,121.76 L137.58,121.76 L138.19,121.75 L138.80,121.75 L139.41,121.74 L140.03,121.74 L140.64,121.73 L141.25,121.73 L141.87,121.72 L142.48,121.72 L143.09,121.71 L143.71,121.70 L144.32,121.70 L144.93,121.69 L145.55,121.69 L146.16,121.68 L146.77,121.68 L147.39,121.67 L148.00,121.67 L148.61,121.66 L149.22,121.66 L149.84,121.65 L150.45,121.64 L151.06,121.64 L151.68,121.63 L152.29,121.63 L152.90,121.62 L153.52,121.62 L154.13,121.61 L154.74,121.61 L155.36,121.60 L155.97,121.59 L156.58,121.59 L157.20,121.58 L157.81,121.58 L158.42,121.57 L159.04,121.57 L159.65,121.56 L160.26,121.56 L160.87,121.55 L161.49,121.55 L162.10,121.54 L162.71,121.53 L163.33,121.53 L163.94,121.52 L164.55,121.52 L165.17,121.51 L165.78,121.51 L166.39,121.50 L167.01,121.50 L167.62,121.49 L168.23,121.48 L168.85,121.48 L169.46,121.47 L170.07,121.47 L170.69,121.46 L171.30,121.46 L171.91,121.45 L172.52,121.45 L173.14,121.44 L173.75,121.44 L174.36,121.43 L174.98,121.42 L175.59,121.42 L176.20,121.41 L176.82,121.41 L177.43,121.40 L178.04,121.40 L178.66,121.39 L179.27,121.39 L179.88,121.38 L180.50,121.38 L181.11,121.37 L181.72,121.36 L182.33,121.36 L182.95,121.35 L183.56,121.35 L184.17,121.34 L184.79,121.34 L185.40,121.33 L186.01,121.33 L186.63,121.32 L187.24,121.31 L187.85,121.31 L188.47,121.30 L189.08,121.30 L189.69,121.29 L190.31,121.29 L190.92,121.28 L191.53,121.28 L192.15,121.27 L192.76,121.27 L193.37,121.26 L193.98,121.25 L194.60,121.25 L195.21,121.24 L195.82,121.24 L196.44,121.23 L197.05,121.23 L197.66,121.22 L198.28,121.22 L198.89,121.21 L199.50,121.21 L200.12,121.20 L200.73,121.19 L201.34,121.19 L201.96,121.18 L202.57,121.18 L203.18,121.17 L203.80,121.17 L204.41,121.16 L205.02,121.16 L205.63,121.15 L206.25,121.14 L206.86,121.14 L207.47,121.13 L208.09,121.13 L208.70,121.12 L209.31,121.12 L209.93,121.11 L210.54,121.11 L210.54,121.44 L209.93,121.78 L209.31,122.12 L208.70,122.45 L208.09,122.79 L207.47,123.12 L206.86,123.44 L206.25,123.77 L205.63,124.09 L205.02,124.41 L204.41,124.73 L203.80,125.04 L203.18,125.35 L202.57,125.66 L201.96,125.97 L201.34,126.28 L200.73,126.58 L200.12,126.88 L199.50,127.18 L198.89,127.48 L198.28,127.77 L197.66,128.06 L197.05,128.35 L196.44,128.64 L195.82,128.93 L195.21,129.21 L194.60,129.49 L193.98,129.77 L193.37,130.05 L192.76,130.32 L192.15,130.60 L191.53,130.87 L190.92,131.14 L190.31,131.41 L189.69,131.67 L189.08,131.94 L188.47,132.20 L187.85,132.46 L187.24,132.72 L186.63,132.98 L186.01,133.23 L185.40,133.49 L184.79,133.74 L184.17,133.99 L183.56,134.24 L182.95,134.48 L182.33,134.73 L181.72,134.97 L181.11,135.21 L180.50,135.45 L179.88,135.69 L179.27,135.93 L178.66,136.16 L178.04,136.40 L177.43,136.63 L176.82,136.86 L176.20,137.09 L175.59,137.32 L174.98,137.54 L174.36,137.77 L173.75,137.99 L173.14,138.21 L172.52,138.44 L171.91,138.65 L171.30,138.87 L170.69,139.09 L170.07,139.30 L169.46,139.52 L168.85,139.73 L168.23,139.94 L167.62,140.15 L167.01,140.36 L166.39,140.57 L165.78,140.77 L165.17,140.98 L164.55,141.18 L163.94,141.38 L163.33,141.58 L162.71,141.78 L162.10,141.98 L161.49,142.18 L160.87,142.38 L160.26,142.57 L159.65,142.77 L159.04,142.96 L158.42,143.15 L157.81,143.34 L157.20,143.53 L156.58,143.72 L155.97,143.90 L155.36,144.09 L154.74,144.28 L154.13,144.46 L153.52,144.64 L152.90,144.82 L152.29,145.00 L151.68,145.18 L151.06,145.36 L150.45,145.54 L149.84,145.72 L149.22,145.89 L148.61,146.07 L148.00,146.24 L147.39,146.41 L146.77,146.58 L146.16,146.75 L145.55,146.92 L144.93,147.09 L144.32,147.26 L143.71,147.43 L143.09,147.59 L142.48,147.76 L141.87,147.92 L141.25,148.09 L140.64,148.25 L140.03,148.41 L139.41,148.57 L138.80,148.73 L138.19,148.89 L137.58,149.05 L136.96,149.20 L136.35,149.36 L135.74,149.52 L135.12,149.67 L134.51,149.82 L133.90,149.98 L133.28,150.13 L132.67,150.28 L132.06,150.43 L131.44,150.58 L130.83,150.73 L130.22,150.88 L129.60,151.03 L128.99,151.17 L128.38,151.32 L127.76,151.46 L127.15,151.61 L126.54,151.75 L125.93,151.89 L125.31,152.04 L124.70,152.18 L124.09,152.32 L123.47,152.46 L122.86,152.60 L122.25,152.74 L121.63,152.88 L121.02,153.01 L120.41,153.15 L119.79,153.29 L119.18,153.42 L118.57,153.55 L117.95,153.69 L117.34,153.82 L116.73,153.95 L116.11,154.09 L115.50,154.22 L114.89,154.35 L114.28,154.48 L113.66,154.61 L113.05,154.74 L112.44,154.86 L111.82,154.99 L111.21,155.12 L110.60,155.24 L109.98,155.37 L109.37,155.50 L108.76,155.62 L108.14,155.74 L107.53,155.87 L106.92,155.99 L106.30,156.11 L105.69,156.23 L105.08,156.35 L104.47,156.47 L103.85,156.59 L103.24,156.71 L102.63,156.83 L102.01,156.95 L101.40,157.07 L100.79,157.18 L100.17,157.30 L99.56,157.42 L98.95,157.53 L98.33,157.65 L97.72,157.76 L97.11,157.88 L96.49,157.99 L95.88,158.10 L95.27,158.21 L94.65,158.33 L94.04,158.44 L93.43,158.55 L92.82,158.66 L92.20,158.77 L91.59,158.88 L90.98,158.99 L90.36,159.09 L89.75,159.20 L89.14,159.31 L88.52,159.42 L87.91,159.52 L87.30,159.63 L86.68,159.73 L86.07,159.84 L85.46,159.94 L84.84,160.05 L84.23,160.15 L83.62,160.25 L83.00,160.36 L82.39,160.46 L81.78,160.56 L81.17,160.66 L80.55,160.76 L79.94,160.86 L79.33,160.96 L78.71,161.06 L78.10,161.16 L77.49,161.26 L76.87,161.36 L76.26,161.46 L75.65,161.56 L75.03,161.65 L74.42,161.75 L73.81,161.85 L73.19,161.94 L72.58,162.04 L71.97,162.13 L71.36,162.23 L70.74,162.32 L70.13,162.42 L69.52,162.51 L68.90,162.60 L68.29,162.69 L67.68,162.79 L67.06,162.88 L66.45,162.97 L65.84,163.06 L65.22,163.15 L64.61,163.24 L64.00,163.33 L63.38,163.42 L62.77,163.51 L62.16,163.60 L61.54,163.69 L60.93,163.78 L60.32,163.87 L59.71,163.95 L59.09,164.04 L58.48,164.13 L57.87,164.22 L57.25,164.30 L56.64,164.39 L56.03,164.47 L55.41,164.56 L54.80,164.64Z" fill="#ff9900" stroke="#ff9900" stroke-width="0.4"/>
<rect x="48.50" y="7.50" width="323.20" height="200.00" fill="none" stroke="#111111" stroke-width="1.25"/>
<line x1="54.80" y1="207.50" x2="365.04" y2="207.50" stroke="#a00000" stroke-width="1.7" opacity="0.28"/>
<path d="M54.80,207.50v-4.40M54.80,7.50v4.40M63.66,207.50v-2.80M63.66,7.50v2.80M72.53,207.50v-2.80M72.53,7.50v2.80M81.39,207.50v-2.80M81.39,7.50v2.80M90.26,207.50v-2.80M90.26,7.50v2.80M99.12,207.50v-4.40M99.12,7.50v4.40M107.98,207.50v-2.80M107.98,7.50v2.80M116.85,207.50v-2.80M116.85,7.50v2.80M125.71,207.50v-2.80M125.71,7.50v2.80M134.58,207.50v-2.80M134.58,7.50v2.80M143.44,207.50v-4.40M143.44,7.50v4.40M152.30,207.50v-2.80M152.30,7.50v2.80M161.17,207.50v-2.80M161.17,7.50v2.80M170.03,207.50v-2.80M170.03,7.50v2.80M178.90,207.50v-2.80M178.90,7.50v2.80M187.76,207.50v-4.40M187.76,7.50v4.40M196.62,207.50v-2.80M196.62,7.50v2.80M205.49,207.50v-2.80M205.49,7.50v2.80M214.35,207.50v-2.80M214.35,7.50v2.80M223.22,207.50v-2.80M223.22,7.50v2.80M232.08,207.50v-4.40M232.08,7.50v4.40M240.94,207.50v-2.80M240.94,7.50v2.80M249.81,207.50v-2.80M249.81,7.50v2.80M258.67,207.50v-2.80M258.67,7.50v2.80M267.54,207.50v-2.80M267.54,7.50v2.80M276.40,207.50v-4.40M276.40,7.50v4.40M285.26,207.50v-2.80M285.26,7.50v2.80M294.13,207.50v-2.80M294.13,7.50v2.80M302.99,207.50v-2.80M302.99,7.50v2.80M311.86,207.50v-2.80M311.86,7.50v2.80M320.72,207.50v-4.40M320.72,7.50v4.40M329.58,207.50v-2.80M329.58,7.50v2.80M338.45,207.50v-2.80M338.45,7.50v2.80M347.31,207.50v-2.80M347.31,7.50v2.80M356.18,207.50v-2.80M356.18,7.50v2.80M365.04,207.50v-4.40M365.04,7.50v4.40M48.50,207.50h4.40M371.70,207.50h-4.40M48.50,197.50h2.80M371.70,197.50h-2.80M48.50,187.50h2.80M371.70,187.50h-2.80M48.50,177.50h2.80M371.70,177.50h-2.80M48.50,167.50h4.40M371.70,167.50h-4.40M48.50,157.50h2.80M371.70,157.50h-2.80M48.50,147.50h2.80M371.70,147.50h-2.80M48.50,137.50h2.80M371.70,137.50h-2.80M48.50,127.50h4.40M371.70,127.50h-4.40M48.50,117.50h2.80M371.70,117.50h-2.80M48.50,107.50h2.80M371.70,107.50h-2.80M48.50,97.50h2.80M371.70,97.50h-2.80M48.50,87.50h4.40M371.70,87.50h-4.40M48.50,77.50h2.80M371.70,77.50h-2.80M48.50,67.50h2.80M371.70,67.50h-2.80M48.50,57.50h2.80M371.70,57.50h-2.80M48.50,47.50h4.40M371.70,47.50h-4.40M48.50,37.50h2.80M371.70,37.50h-2.80M48.50,27.50h2.80M371.70,27.50h-2.80M48.50,17.50h2.80M371.70,17.50h-2.80M48.50,7.50h4.40M371.70,7.50h-4.40" stroke="#111111" stroke-width="1" fill="none"/>
<text x="54.80" y="220.00" text-anchor="middle" class="tl">0.93</text>
<text x="99.12" y="220.00" text-anchor="middle" class="tl">0.94</text>
<text x="143.44" y="220.00" text-anchor="middle" class="tl">0.95</text>
<text x="187.76" y="220.00" text-anchor="middle" class="tl">0.96</text>
<text x="232.08" y="220.00" text-anchor="middle" class="tl">0.97</text>
<text x="276.40" y="220.00" text-anchor="middle" class="tl">0.98</text>
<text x="320.72" y="220.00" text-anchor="middle" class="tl">0.99</text>
<text x="365.04" y="220.00" text-anchor="middle" class="tl">1.00</text>
<text x="45.20" y="211.00" text-anchor="end" class="tl">0</text>
<text x="45.20" y="171.00" text-anchor="end" class="tl">20</text>
<text x="45.20" y="131.00" text-anchor="end" class="tl">40</text>
<text x="45.20" y="91.00" text-anchor="end" class="tl">60</text>
<text x="45.20" y="51.00" text-anchor="end" class="tl">80</text>
<text x="45.20" y="11.00" text-anchor="end" class="tl">100</text>
<text x="210.40" y="242.30" text-anchor="middle" class="al">n<tspan class="sub" dy="3.5">s</tspan></text>
<text transform="translate(13.90,107.90) rotate(-90)" text-anchor="middle" class="al">N<tspan class="sub" dy="3.5">k</tspan></text>
<text x="327.10" y="31.00" class="pl">p=2</text>
<path d="M480.11,77.40 L480.72,77.10 L481.34,76.80 L481.95,76.49 L482.56,76.18 L483.18,75.88 L483.79,75.57 L484.41,75.25 L485.02,74.94 L485.63,74.63 L486.25,74.31 L486.86,74.00 L487.48,73.68 L488.09,73.36 L488.70,73.04 L489.32,72.71 L489.93,72.39 L490.55,72.06 L491.16,71.74 L491.77,71.41 L492.39,71.08 L493.00,70.75 L493.62,70.41 L494.23,70.08 L494.84,69.74 L495.46,69.40 L496.07,69.06 L496.69,68.72 L497.30,68.38 L497.91,68.03 L498.53,67.69 L499.14,67.34 L499.76,66.99 L500.37,66.64 L500.98,66.28 L501.60,65.93 L502.21,65.57 L502.83,65.21 L503.44,64.85 L504.05,64.49 L504.67,64.12 L505.28,63.76 L505.90,63.39 L506.51,63.02 L507.12,62.65 L507.74,62.28 L508.35,61.90 L508.97,61.52 L509.58,61.14 L510.19,60.76 L510.81,60.38 L511.42,60.00 L512.04,59.61 L512.65,59.22 L513.26,58.83 L513.88,58.44 L514.49,58.04 L515.11,57.64 L515.72,57.24 L516.33,56.84 L516.95,56.44 L517.56,56.03 L518.18,55.63 L518.79,55.22 L519.40,54.81 L520.02,54.39 L520.63,53.97 L521.25,53.56 L521.86,53.14 L522.47,52.71 L523.09,52.29 L523.70,51.86 L524.32,51.43 L524.93,51.00 L525.54,50.56 L526.16,50.13 L526.77,49.69 L527.39,49.24 L528.00,48.80 L528.61,48.35 L529.23,47.90 L529.84,47.45 L530.45,47.00 L531.07,46.54 L531.68,46.08 L532.30,45.62 L532.91,45.16 L533.52,44.69 L534.14,44.22 L534.75,43.75 L535.37,43.27 L535.98,42.79 L536.59,42.31 L537.21,41.83 L537.82,41.34 L538.44,40.86 L539.05,40.36 L539.66,39.87 L540.28,39.37 L540.89,38.87 L541.51,38.37 L542.12,37.86 L542.73,37.35 L543.35,36.84 L543.96,36.32 L544.58,35.81 L545.19,35.28 L545.80,34.76 L546.42,34.23 L547.03,33.70 L547.65,33.17 L548.26,32.63 L548.87,32.09 L549.49,31.54 L550.10,31.00 L550.72,30.45 L551.33,29.89 L551.94,29.34 L552.56,28.77 L553.17,28.21 L553.79,27.64 L554.40,27.07 L555.01,26.50 L555.63,25.92 L556.24,25.33 L556.86,24.75 L557.47,24.16 L558.08,23.57 L558.70,22.97 L559.31,22.37 L559.93,21.76 L560.54,21.15 L561.15,20.54 L561.77,19.92 L562.38,19.30 L563.00,18.68 L563.61,18.05 L564.22,17.42 L564.84,16.78 L565.45,16.14 L566.07,15.49 L566.68,14.84 L567.29,14.19 L567.91,13.53 L568.52,12.86 L569.14,12.20 L569.75,11.52 L570.36,10.85 L570.98,10.17 L571.59,9.48 L572.21,8.79 L572.82,8.09 L573.43,7.50 L574.05,7.50 L574.66,7.50 L575.28,7.50 L575.89,7.50 L576.50,7.50 L577.12,7.50 L577.73,7.50 L578.35,7.50 L578.96,7.50 L579.57,7.50 L580.19,7.50 L580.80,7.50 L581.42,7.50 L582.03,7.50 L582.64,7.50 L583.26,7.50 L583.87,7.50 L584.49,7.50 L585.10,7.50 L585.71,7.50 L586.33,7.50 L586.94,7.50 L587.55,7.50 L588.17,7.50 L588.78,7.50 L589.40,7.50 L590.01,7.50 L590.62,7.50 L591.24,7.50 L591.85,7.50 L592.47,7.50 L593.08,7.50 L593.69,7.50 L594.31,7.50 L594.92,7.50 L595.54,7.50 L596.15,7.50 L596.76,7.50 L597.38,7.50 L597.99,7.50 L598.61,7.50 L599.22,7.50 L599.83,7.50 L600.45,7.50 L601.06,7.50 L601.68,7.50 L602.29,7.50 L602.90,7.50 L603.52,7.50 L604.13,7.50 L604.75,7.50 L605.36,7.50 L605.97,7.50 L606.59,7.50 L607.20,7.50 L607.82,7.50 L608.43,7.50 L609.04,7.50 L609.66,7.50 L610.27,7.50 L610.89,7.50 L611.50,7.50 L612.11,7.50 L612.73,7.50 L613.34,7.50 L613.96,7.50 L614.57,7.50 L615.18,7.50 L615.80,7.50 L616.41,7.50 L617.03,7.50 L617.64,7.50 L618.25,7.50 L618.87,7.50 L619.48,7.50 L620.10,7.50 L620.71,7.50 L621.32,7.50 L621.94,7.50 L622.55,7.50 L623.17,7.50 L623.78,7.50 L624.39,7.50 L625.01,7.50 L625.62,7.50 L626.24,7.50 L626.85,7.50 L627.46,7.50 L628.08,7.50 L628.69,7.50 L629.31,7.50 L629.92,7.50 L630.53,7.50 L631.15,7.50 L631.76,7.50 L632.38,7.50 L632.99,7.50 L633.60,7.50 L634.22,7.50 L634.83,7.50 L635.45,7.50 L636.06,7.50 L636.67,7.50 L637.29,7.50 L637.90,7.50 L638.52,7.50 L639.13,7.50 L639.74,7.50 L640.36,7.50 L640.97,7.50 L641.59,7.50 L642.20,7.50 L642.81,7.50 L643.43,7.50 L644.04,7.50 L644.65,7.50 L645.27,7.50 L645.88,7.50 L646.50,7.50 L647.11,7.50 L647.72,7.50 L648.34,7.50 L648.95,7.50 L649.57,7.50 L650.18,7.50 L650.79,7.50 L651.41,7.50 L652.02,7.50 L652.64,7.50 L653.25,7.50 L653.86,7.50 L654.48,7.50 L655.09,7.50 L655.71,7.50 L656.32,7.50 L656.93,7.50 L657.55,7.50 L658.16,7.50 L658.78,7.50 L659.39,7.50 L660.00,7.50 L660.62,7.50 L661.23,7.50 L661.85,7.50 L662.46,7.50 L663.07,7.50 L663.69,7.50 L664.30,7.50 L664.92,7.50 L665.53,7.50 L666.14,7.50 L666.76,7.50 L667.37,7.50 L667.99,7.50 L668.60,7.50 L669.21,7.50 L669.83,7.50 L670.44,7.50 L671.06,7.50 L671.67,7.50 L672.28,7.50 L672.90,7.50 L673.51,7.50 L674.13,7.50 L674.74,7.50 L675.35,7.50 L675.97,7.50 L676.58,7.50 L677.20,7.50 L677.81,7.50 L678.42,7.50 L679.04,7.50 L679.65,7.50 L680.27,7.50 L680.88,7.50 L681.49,7.50 L682.11,7.50 L682.72,7.50 L683.34,7.50 L683.95,7.50 L683.95,8.52 L683.34,10.33 L682.72,12.10 L682.11,13.85 L681.49,15.56 L680.88,17.25 L680.27,18.90 L679.65,20.53 L679.04,22.13 L678.42,23.70 L677.81,25.24 L677.20,26.76 L676.58,28.25 L675.97,29.72 L675.35,31.17 L674.74,32.59 L674.13,33.99 L673.51,35.37 L672.90,36.72 L672.28,38.06 L671.67,39.37 L671.06,40.67 L670.44,41.94 L669.83,43.19 L669.21,44.43 L668.60,45.65 L667.99,46.85 L667.37,48.03 L666.76,49.19 L666.14,50.34 L665.53,51.47 L664.92,52.58 L664.30,53.68 L663.69,54.77 L663.07,55.84 L662.46,56.89 L661.85,57.93 L661.23,58.95 L660.62,59.96 L660.00,60.96 L659.39,61.94 L658.78,62.91 L658.16,63.87 L657.55,64.82 L656.93,65.75 L656.32,66.67 L655.71,67.50 L655.09,67.52 L654.48,67.54 L653.86,67.55 L653.25,67.57 L652.64,67.59 L652.02,67.61 L651.41,67.62 L650.79,67.64 L650.18,67.66 L649.57,67.67 L648.95,67.69 L648.34,67.71 L647.72,67.72 L647.11,67.74 L646.50,67.76 L645.88,67.77 L645.27,67.79 L644.65,67.81 L644.04,67.82 L643.43,67.84 L642.81,67.86 L642.20,67.87 L641.59,67.89 L640.97,67.91 L640.36,67.92 L639.74,67.94 L639.13,67.96 L638.52,67.97 L637.90,67.99 L637.29,68.01 L636.67,68.02 L636.06,68.04 L635.45,68.06 L634.83,68.07 L634.22,68.09 L633.60,68.11 L632.99,68.12 L632.38,68.14 L631.76,68.16 L631.15,68.17 L630.53,68.19 L629.92,68.21 L629.31,68.22 L628.69,68.24 L628.08,68.26 L627.46,68.27 L626.85,68.29 L626.24,68.31 L625.62,68.32 L625.01,68.34 L624.39,68.36 L623.78,68.37 L623.17,68.39 L622.55,68.41 L621.94,68.42 L621.32,68.44 L620.71,68.46 L620.10,68.47 L619.48,68.49 L618.87,68.51 L618.25,68.52 L617.64,68.54 L617.03,68.56 L616.41,68.57 L615.80,68.59 L615.18,68.61 L614.57,68.62 L613.96,68.64 L613.34,68.66 L612.73,68.67 L612.11,68.69 L611.50,68.71 L610.89,68.72 L610.27,68.74 L609.66,68.76 L609.04,68.77 L608.43,68.79 L607.82,68.81 L607.20,68.82 L606.59,68.84 L605.97,68.86 L605.36,68.87 L604.75,68.89 L604.13,68.91 L603.52,68.93 L602.90,68.94 L602.29,68.96 L601.68,68.98 L601.06,69.00 L600.45,69.02 L599.83,69.03 L599.22,69.05 L598.61,69.07 L597.99,69.09 L597.38,69.11 L596.76,69.12 L596.15,69.14 L595.54,69.16 L594.92,69.18 L594.31,69.20 L593.69,69.21 L593.08,69.23 L592.47,69.25 L591.85,69.27 L591.24,69.29 L590.62,69.30 L590.01,69.32 L589.40,69.34 L588.78,69.36 L588.17,69.38 L587.55,69.39 L586.94,69.41 L586.33,69.43 L585.71,69.45 L585.10,69.47 L584.49,69.48 L583.87,69.50 L583.26,69.52 L582.64,69.54 L582.03,69.56 L581.42,69.57 L580.80,69.59 L580.19,69.61 L579.57,69.63 L578.96,69.65 L578.35,69.66 L577.73,69.68 L577.12,69.70 L576.50,69.72 L575.89,69.74 L575.28,69.75 L574.66,69.77 L574.05,69.79 L573.43,69.81 L572.82,69.83 L572.21,69.84 L571.59,69.86 L570.98,69.88 L570.36,69.90 L569.75,69.92 L569.14,69.93 L568.52,69.95 L567.91,69.97 L567.29,69.99 L566.68,70.01 L566.07,70.02 L565.45,70.04 L564.84,70.06 L564.22,70.08 L563.61,70.10 L563.00,70.11 L562.38,70.13 L561.77,70.15 L561.15,70.17 L560.54,70.19 L559.93,70.20 L559.31,70.22 L558.70,70.24 L558.08,70.26 L557.47,70.28 L556.86,70.29 L556.24,70.31 L555.63,70.33 L555.01,70.35 L554.40,70.37 L553.79,70.38 L553.17,70.40 L552.56,70.42 L551.94,70.44 L551.33,70.46 L550.72,70.47 L550.10,70.49 L549.49,70.51 L548.87,70.53 L548.26,70.56 L547.65,70.58 L547.03,70.60 L546.42,70.63 L545.80,70.65 L545.19,70.67 L544.58,70.69 L543.96,70.72 L543.35,70.74 L542.73,70.76 L542.12,70.78 L541.51,70.81 L540.89,70.83 L540.28,70.85 L539.66,70.87 L539.05,70.90 L538.44,70.92 L537.82,70.94 L537.21,70.96 L536.59,70.99 L535.98,71.01 L535.37,71.03 L534.75,71.06 L534.14,71.08 L533.52,71.10 L532.91,71.12 L532.30,71.15 L531.68,71.17 L531.07,71.19 L530.45,71.21 L529.84,71.24 L529.23,71.26 L528.61,71.28 L528.00,71.30 L527.39,71.33 L526.77,71.35 L526.16,71.37 L525.54,71.40 L524.93,71.43 L524.32,71.48 L523.70,71.52 L523.09,71.56 L522.47,71.60 L521.86,71.64 L521.25,71.69 L520.63,71.73 L520.02,71.77 L519.40,71.81 L518.79,71.86 L518.18,71.90 L517.56,71.94 L516.95,71.98 L516.33,72.02 L515.72,72.07 L515.11,72.11 L514.49,72.15 L513.88,72.19 L513.26,72.24 L512.65,72.28 L512.04,72.32 L511.42,72.36 L510.81,72.41 L510.19,72.45 L509.58,72.49 L508.97,72.55 L508.35,72.62 L507.74,72.69 L507.12,72.76 L506.51,72.83 L505.90,72.90 L505.28,72.97 L504.67,73.04 L504.05,73.11 L503.44,73.18 L502.83,73.25 L502.21,73.32 L501.60,73.40 L500.98,73.47 L500.37,73.54 L499.76,73.61 L499.14,73.68 L498.53,73.75 L497.91,73.82 L497.30,73.89 L496.69,73.96 L496.07,74.03 L495.46,74.10 L494.84,74.17 L494.23,74.24 L493.62,74.31 L493.00,74.42 L492.39,74.52 L491.77,74.63 L491.16,74.74 L490.55,74.85 L489.93,74.95 L489.32,75.06 L488.70,75.17 L488.09,75.27 L487.48,75.38 L486.86,75.49 L486.25,75.68 L485.63,75.87 L485.02,76.07 L484.41,76.27 L483.79,76.47 L483.18,76.67 L482.56,76.86 L481.95,77.06 L481.34,77.26 L480.72,77.46 L480.11,77.50Z" fill="#00ff00" stroke="#00ff00" stroke-width="0.4"/>
<path d="M440.20,94.50 L440.81,94.27 L441.43,94.04 L442.04,93.81 L442.66,93.58 L443.27,93.34 L443.88,93.11 L444.50,92.87 L445.11,92.64 L445.73,92.40 L446.34,92.16 L446.95,91.92 L447.57,91.68 L448.18,91.44 L448.80,91.20 L449.41,90.96 L450.02,90.71 L450.64,90.47 L451.25,90.22 L451.87,89.97 L452.48,89.73 L453.09,89.48 L453.71,89.23 L454.32,88.98 L454.94,88.72 L455.55,88.47 L456.16,88.22 L456.78,87.96 L457.39,87.70 L458.01,87.45 L458.62,87.19 L459.23,86.93 L459.85,86.67 L460.46,86.41 L461.08,86.14 L461.69,85.88 L462.30,85.61 L462.92,85.35 L463.53,85.08 L464.15,84.81 L464.76,84.54 L465.37,84.27 L465.99,84.00 L466.60,83.73 L467.22,83.45 L467.83,83.18 L468.44,82.90 L469.06,82.62 L469.67,82.34 L470.28,82.06 L470.90,81.78 L471.51,81.50 L472.13,81.21 L472.74,80.93 L473.35,80.64 L473.97,80.35 L474.58,80.06 L475.20,79.77 L475.81,79.48 L476.42,79.19 L477.04,78.89 L477.65,78.60 L478.27,78.30 L478.88,78.00 L479.49,77.70 L480.11,77.50 L480.72,77.46 L481.34,77.26 L481.95,77.06 L482.56,76.86 L483.18,76.67 L483.79,76.47 L484.41,76.27 L485.02,76.07 L485.63,75.87 L486.25,75.68 L486.86,75.49 L487.48,75.38 L488.09,75.27 L488.70,75.17 L489.32,75.06 L489.93,74.95 L490.55,74.85 L491.16,74.74 L491.77,74.63 L492.39,74.52 L493.00,74.42 L493.62,74.31 L494.23,74.24 L494.84,74.17 L495.46,74.10 L496.07,74.03 L496.69,73.96 L497.30,73.89 L497.91,73.82 L498.53,73.75 L499.14,73.68 L499.76,73.61 L500.37,73.54 L500.98,73.47 L501.60,73.40 L502.21,73.32 L502.83,73.25 L503.44,73.18 L504.05,73.11 L504.67,73.04 L505.28,72.97 L505.90,72.90 L506.51,72.83 L507.12,72.76 L507.74,72.69 L508.35,72.62 L508.97,72.55 L509.58,72.49 L510.19,72.45 L510.81,72.41 L511.42,72.36 L512.04,72.32 L512.65,72.28 L513.26,72.24 L513.88,72.19 L514.49,72.15 L515.11,72.11 L515.72,72.07 L516.33,72.02 L516.95,71.98 L517.56,71.94 L518.18,71.90 L518.79,71.86 L519.40,71.81 L520.02,71.77 L520.63,71.73 L521.25,71.69 L521.86,71.64 L522.47,71.60 L523.09,71.56 L523.70,71.52 L524.32,71.48 L524.93,71.43 L525.54,71.40 L526.16,71.37 L526.77,71.35 L527.39,71.33 L528.00,71.30 L528.61,71.28 L529.23,71.26 L529.84,71.24 L530.45,71.21 L531.07,71.19 L531.68,71.17 L532.30,71.15 L532.91,71.12 L533.52,71.10 L534.14,71.08 L534.75,71.06 L535.37,71.03 L535.98,71.01 L536.59,70.99 L537.21,70.96 L537.82,70.94 L538.44,70.92 L539.05,70.90 L539.66,70.87 L540.28,70.85 L540.89,70.83 L541.51,70.81 L542.12,70.78 L542.73,70.76 L543.35,70.74 L543.96,70.72 L544.58,70.69 L545.19,70.67 L545.80,70.65 L546.42,70.63 L547.03,70.60 L547.65,70.58 L548.26,70.56 L548.87,70.53 L549.49,70.51 L550.10,70.49 L550.72,70.47 L551.33,70.46 L551.94,70.44 L552.56,70.42 L553.17,70.40 L553.79,70.38 L554.40,70.37 L555.01,70.35 L555.63,70.33 L556.24,70.31 L556.86,70.29 L557.47,70.28 L558.08,70.26 L558.70,70.24 L559.31,70.22 L559.93,70.20 L560.54,70.19 L561.15,70.17 L561.77,70.15 L562.38,70.13 L563.00,70.11 L563.61,70.10 L564.22,70.08 L564.84,70.06 L565.45,70.04 L566.07,70.02 L566.68,70.01 L567.29,69.99 L567.91,69.97 L568.52,69.95 L569.14,69.93 L569.75,69.92 L570.36,69.90 L570.98,69.88 L571.59,69.86 L572.21,69.84 L572.82,69.83 L573.43,69.81 L574.05,69.79 L574.66,69.77 L575.28,69.75 L575.89,69.74 L576.50,69.72 L577.12,69.70 L577.73,69.68 L578.35,69.66 L578.96,69.65 L579.57,69.63 L580.19,69.61 L580.80,69.59 L581.42,69.57 L582.03,69.56 L582.64,69.54 L583.26,69.52 L583.87,69.50 L584.49,69.48 L585.10,69.47 L585.71,69.45 L586.33,69.43 L586.94,69.41 L587.55,69.39 L588.17,69.38 L588.78,69.36 L589.40,69.34 L590.01,69.32 L590.62,69.30 L591.24,69.29 L591.85,69.27 L592.47,69.25 L593.08,69.23 L593.69,69.21 L594.31,69.20 L594.92,69.18 L595.54,69.16 L596.15,69.14 L596.76,69.12 L597.38,69.11 L597.99,69.09 L598.61,69.07 L599.22,69.05 L599.83,69.03 L600.45,69.02 L601.06,69.00 L601.68,68.98 L602.29,68.96 L602.90,68.94 L603.52,68.93 L604.13,68.91 L604.75,68.89 L605.36,68.87 L605.97,68.86 L606.59,68.84 L607.20,68.82 L607.82,68.81 L608.43,68.79 L609.04,68.77 L609.66,68.76 L610.27,68.74 L610.89,68.72 L611.50,68.71 L612.11,68.69 L612.73,68.67 L613.34,68.66 L613.96,68.64 L614.57,68.62 L615.18,68.61 L615.80,68.59 L616.41,68.57 L617.03,68.56 L617.64,68.54 L618.25,68.52 L618.87,68.51 L619.48,68.49 L620.10,68.47 L620.71,68.46 L621.32,68.44 L621.94,68.42 L622.55,68.41 L623.17,68.39 L623.78,68.37 L624.39,68.36 L625.01,68.34 L625.62,68.32 L626.24,68.31 L626.85,68.29 L627.46,68.27 L628.08,68.26 L628.69,68.24 L629.31,68.22 L629.92,68.21 L630.53,68.19 L631.15,68.17 L631.76,68.16 L632.38,68.14 L632.99,68.12 L633.60,68.11 L634.22,68.09 L634.83,68.07 L635.45,68.06 L636.06,68.04 L636.67,68.02 L637.29,68.01 L637.90,67.99 L638.52,67.97 L639.13,67.96 L639.74,67.94 L640.36,67.92 L640.97,67.91 L641.59,67.89 L642.20,67.87 L642.81,67.86 L643.43,67.84 L644.04,67.82 L644.65,67.81 L645.27,67.79 L645.88,67.77 L646.50,67.76 L647.11,67.74 L647.72,67.72 L648.34,67.71 L648.95,67.69 L649.57,67.67 L650.18,67.66 L650.79,67.64 L651.41,67.62 L652.02,67.61 L652.64,67.59 L653.25,67.57 L653.86,67.55 L654.48,67.54 L655.09,67.52 L655.71,67.50 L655.71,67.58 L655.09,68.48 L654.48,69.36 L653.86,70.24 L653.25,71.10 L652.64,71.95 L652.02,72.79 L651.41,73.63 L650.79,74.45 L650.18,75.26 L649.57,76.06 L648.95,76.85 L648.34,77.63 L647.72,78.41 L647.11,79.17 L646.50,79.93 L645.88,80.67 L645.27,81.41 L644.65,82.14 L644.04,82.86 L643.43,83.57 L642.81,84.28 L642.20,84.97 L641.59,85.66 L640.97,86.34 L640.36,87.01 L639.74,87.68 L639.13,88.34 L638.52,88.99 L637.90,89.63 L637.29,90.27 L636.67,90.90 L636.06,91.53 L635.45,92.14 L634.83,92.75 L634.22,93.36 L633.60,93.95 L632.99,94.31 L632.38,94.32 L631.76,94.33 L631.15,94.34 L630.53,94.35 L629.92,94.36 L629.31,94.38 L628.69,94.39 L628.08,94.40 L627.46,94.41 L626.85,94.42 L626.24,94.43 L625.62,94.45 L625.01,94.46 L624.39,94.47 L623.78,94.48 L623.17,94.49 L622.55,94.51 L621.94,94.52 L621.32,94.53 L620.71,94.54 L620.10,94.55 L619.48,94.56 L618.87,94.58 L618.25,94.59 L617.64,94.60 L617.03,94.61 L616.41,94.62 L615.80,94.63 L615.18,94.65 L614.57,94.66 L613.96,94.67 L613.34,94.68 L612.73,94.69 L612.11,94.71 L611.50,94.72 L610.89,94.73 L610.27,94.74 L609.66,94.75 L609.04,94.76 L608.43,94.78 L607.82,94.79 L607.20,94.80 L606.59,94.81 L605.97,94.82 L605.36,94.83 L604.75,94.85 L604.13,94.86 L603.52,94.87 L602.90,94.88 L602.29,94.89 L601.68,94.91 L601.06,94.92 L600.45,94.93 L599.83,94.94 L599.22,94.95 L598.61,94.96 L597.99,94.98 L597.38,94.99 L596.76,95.00 L596.15,95.01 L595.54,95.02 L594.92,95.04 L594.31,95.05 L593.69,95.06 L593.08,95.07 L592.47,95.08 L591.85,95.09 L591.24,95.11 L590.62,95.12 L590.01,95.13 L589.40,95.14 L588.78,95.15 L588.17,95.16 L587.55,95.18 L586.94,95.19 L586.33,95.20 L585.71,95.21 L585.10,95.22 L584.49,95.24 L583.87,95.25 L583.26,95.26 L582.64,95.27 L582.03,95.28 L581.42,95.29 L580.80,95.31 L580.19,95.32 L579.57,95.33 L578.96,95.34 L578.35,95.35 L577.73,95.36 L577.12,95.38 L576.50,95.39 L575.89,95.40 L575.28,95.41 L574.66,95.42 L574.05,95.44 L573.43,95.45 L572.82,95.46 L572.21,95.47 L571.59,95.48 L570.98,95.49 L570.36,95.51 L569.75,95.52 L569.14,95.53 L568.52,95.54 L567.91,95.55 L567.29,95.56 L566.68,95.58 L566.07,95.59 L565.45,95.60 L564.84,95.61 L564.22,95.62 L563.61,95.64 L563.00,95.65 L562.38,95.66 L561.77,95.67 L561.15,95.68 L560.54,95.69 L559.93,95.71 L559.31,95.72 L558.70,95.73 L558.08,95.74 L557.47,95.75 L556.86,95.77 L556.24,95.78 L555.63,95.79 L555.01,95.80 L554.40,95.81 L553.79,95.82 L553.17,95.84 L552.56,95.85 L551.94,95.86 L551.33,95.87 L550.72,95.88 L550.10,95.89 L549.49,95.90 L548.87,95.91 L548.26,95.92 L547.65,95.93 L547.03,95.94 L546.42,95.95 L545.80,95.96 L545.19,95.97 L544.58,95.98 L543.96,95.98 L543.35,95.99 L542.73,96.00 L542.12,96.01 L541.51,96.02 L540.89,96.03 L540.28,96.04 L539.66,96.05 L539.05,96.05 L538.44,96.06 L537.82,96.07 L537.21,96.08 L536.59,96.09 L535.98,96.10 L535.37,96.11 L534.75,96.12 L534.14,96.13 L533.52,96.13 L532.91,96.14 L532.30,96.15 L531.68,96.16 L531.07,96.17 L530.45,96.18 L529.84,96.19 L529.23,96.20 L528.61,96.20 L528.00,96.21 L527.39,96.22 L526.77,96.23 L526.16,96.24 L525.54,96.25 L524.93,96.26 L524.32,96.27 L523.70,96.27 L523.09,96.28 L522.47,96.29 L521.86,96.30 L521.25,96.31 L520.63,96.32 L520.02,96.33 L519.40,96.34 L518.79,96.35 L518.18,96.35 L517.56,96.36 L516.95,96.37 L516.33,96.38 L515.72,96.39 L515.11,96.40 L514.49,96.41 L513.88,96.42 L513.26,96.42 L512.65,96.43 L512.04,96.44 L511.42,96.45 L510.81,96.46 L510.19,96.47 L509.58,96.48 L508.97,96.49 L508.35,96.50 L507.74,96.50 L507.12,96.51 L506.51,96.52 L505.90,96.53 L505.28,96.54 L504.67,96.55 L504.05,96.56 L503.44,96.57 L502.83,96.57 L502.21,96.58 L501.60,96.59 L500.98,96.60 L500.37,96.61 L499.76,96.62 L499.14,96.63 L498.53,96.64 L497.91,96.64 L497.30,96.65 L496.69,96.66 L496.07,96.67 L495.46,96.68 L494.84,96.69 L494.23,96.70 L493.62,96.71 L493.00,96.72 L492.39,96.72 L491.77,96.73 L491.16,96.74 L490.55,96.75 L489.93,96.76 L489.32,96.77 L488.70,96.78 L488.09,96.79 L487.48,96.79 L486.86,96.80 L486.25,96.81 L485.63,96.82 L485.02,96.83 L484.41,96.84 L483.79,96.85 L483.18,96.86 L482.56,96.87 L481.95,96.87 L481.34,96.88 L480.72,96.89 L480.11,96.90 L479.49,96.94 L478.88,96.98 L478.27,97.01 L477.65,97.05 L477.04,97.09 L476.42,97.12 L475.81,97.16 L475.20,97.20 L474.58,97.23 L473.97,97.27 L473.35,97.31 L472.74,97.34 L472.13,97.38 L471.51,97.42 L470.90,97.46 L470.28,97.49 L469.67,97.53 L469.06,97.57 L468.44,97.60 L467.83,97.64 L467.22,97.68 L466.60,97.71 L465.99,97.75 L465.37,97.79 L464.76,97.82 L464.15,97.86 L463.53,97.90 L462.92,97.93 L462.30,97.97 L461.69,98.01 L461.08,98.05 L460.46,98.08 L459.85,98.12 L459.23,98.16 L458.62,98.19 L458.01,98.23 L457.39,98.27 L456.78,98.30 L456.16,98.34 L455.55,98.38 L454.94,98.41 L454.32,98.45 L453.71,98.49 L453.09,98.53 L452.48,98.56 L451.87,98.60 L451.25,98.64 L450.64,98.67 L450.02,98.71 L449.41,98.75 L448.80,98.78 L448.18,98.82 L447.57,98.86 L446.95,98.89 L446.34,98.93 L445.73,98.97 L445.11,99.00 L444.50,99.04 L443.88,99.08 L443.27,99.12 L442.66,99.15 L442.04,99.19 L441.43,99.23 L440.81,99.26 L440.20,99.30Z" fill="#f0f00a" stroke="#f0f00a" stroke-width="0.4"/>
<path d="M440.20,99.30 L440.81,99.26 L441.43,99.23 L442.04,99.19 L442.66,99.15 L443.27,99.12 L443.88,99.08 L444.50,99.04 L445.11,99.00 L445.73,98.97 L446.34,98.93 L446.95,98.89 L447.57,98.86 L448.18,98.82 L448.80,98.78 L449.41,98.75 L450.02,98.71 L450.64,98.67 L451.25,98.64 L451.87,98.60 L452.48,98.56 L453.09,98.53 L453.71,98.49 L454.32,98.45 L454.94,98.41 L455.55,98.38 L456.16,98.34 L456.78,98.30 L457.39,98.27 L458.01,98.23 L458.62,98.19 L459.23,98.16 L459.85,98.12 L460.46,98.08 L461.08,98.05 L461.69,98.01 L462.30,97.97 L462.92,97.93 L463.53,97.90 L464.15,97.86 L464.76,97.82 L465.37,97.79 L465.99,97.75 L466.60,97.71 L467.22,97.68 L467.83,97.64 L468.44,97.60 L469.06,97.57 L469.67,97.53 L470.28,97.49 L470.90,97.46 L471.51,97.42 L472.13,97.38 L472.74,97.34 L473.35,97.31 L473.97,97.27 L474.58,97.23 L475.20,97.20 L475.81,97.16 L476.42,97.12 L477.04,97.09 L477.65,97.05 L478.27,97.01 L478.88,96.98 L479.49,96.94 L480.11,96.90 L480.72,96.89 L481.34,96.88 L481.95,96.87 L482.56,96.87 L483.18,96.86 L483.79,96.85 L484.41,96.84 L485.02,96.83 L485.63,96.82 L486.25,96.81 L486.86,96.80 L487.48,96.79 L488.09,96.79 L488.70,96.78 L489.32,96.77 L489.93,96.76 L490.55,96.75 L491.16,96.74 L491.77,96.73 L492.39,96.72 L493.00,96.72 L493.62,96.71 L494.23,96.70 L494.84,96.69 L495.46,96.68 L496.07,96.67 L496.69,96.66 L497.30,96.65 L497.91,96.64 L498.53,96.64 L499.14,96.63 L499.76,96.62 L500.37,96.61 L500.98,96.60 L501.60,96.59 L502.21,96.58 L502.83,96.57 L503.44,96.57 L504.05,96.56 L504.67,96.55 L505.28,96.54 L505.90,96.53 L506.51,96.52 L507.12,96.51 L507.74,96.50 L508.35,96.50 L508.97,96.49 L509.58,96.48 L510.19,96.47 L510.81,96.46 L511.42,96.45 L512.04,96.44 L512.65,96.43 L513.26,96.42 L513.88,96.42 L514.49,96.41 L515.11,96.40 L515.72,96.39 L516.33,96.38 L516.95,96.37 L517.56,96.36 L518.18,96.35 L518.79,96.35 L519.40,96.34 L520.02,96.33 L520.63,96.32 L521.25,96.31 L521.86,96.30 L522.47,96.29 L523.09,96.28 L523.70,96.27 L524.32,96.27 L524.93,96.26 L525.54,96.25 L526.16,96.24 L526.77,96.23 L527.39,96.22 L528.00,96.21 L528.61,96.20 L529.23,96.20 L529.84,96.19 L530.45,96.18 L531.07,96.17 L531.68,96.16 L532.30,96.15 L532.91,96.14 L533.52,96.13 L534.14,96.13 L534.75,96.12 L535.37,96.11 L535.98,96.10 L536.59,96.09 L537.21,96.08 L537.82,96.07 L538.44,96.06 L539.05,96.05 L539.66,96.05 L540.28,96.04 L540.89,96.03 L541.51,96.02 L542.12,96.01 L542.73,96.00 L543.35,95.99 L543.96,95.98 L544.58,95.98 L545.19,95.97 L545.80,95.96 L546.42,95.95 L547.03,95.94 L547.65,95.93 L548.26,95.92 L548.87,95.91 L549.49,95.90 L550.10,95.89 L550.72,95.88 L551.33,95.87 L551.94,95.86 L552.56,95.85 L553.17,95.84 L553.79,95.82 L554.40,95.81 L555.01,95.80 L555.63,95.79 L556.24,95.78 L556.86,95.77 L557.47,95.75 L558.08,95.74 L558.70,95.73 L559.31,95.72 L559.93,95.71 L560.54,95.69 L561.15,95.68 L561.77,95.67 L562.38,95.66 L563.00,95.65 L563.61,95.64 L564.22,95.62 L564.84,95.61 L565.45,95.60 L566.07,95.59 L566.68,95.58 L567.29,95.56 L567.91,95.55 L568.52,95.54 L569.14,95.53 L569.75,95.52 L570.36,95.51 L570.98,95.49 L571.59,95.48 L572.21,95.47 L572.82,95.46 L573.43,95.45 L574.05,95.44 L574.66,95.42 L575.28,95.41 L575.89,95.40 L576.50,95.39 L577.12,95.38 L577.73,95.36 L578.35,95.35 L578.96,95.34 L579.57,95.33 L580.19,95.32 L580.80,95.31 L581.42,95.29 L582.03,95.28 L582.64,95.27 L583.26,95.26 L583.87,95.25 L584.49,95.24 L585.10,95.22 L585.71,95.21 L586.33,95.20 L586.94,95.19 L587.55,95.18 L588.17,95.16 L588.78,95.15 L589.40,95.14 L590.01,95.13 L590.62,95.12 L591.24,95.11 L591.85,95.09 L592.47,95.08 L593.08,95.07 L593.69,95.06 L594.31,95.05 L594.92,95.04 L595.54,95.02 L596.15,95.01 L596.76,95.00 L597.38,94.99 L597.99,94.98 L598.61,94.96 L599.22,94.95 L599.83,94.94 L600.45,94.93 L601.06,94.92 L601.68,94.91 L602.29,94.89 L602.90,94.88 L603.52,94.87 L604.13,94.86 L604.75,94.85 L605.36,94.83 L605.97,94.82 L606.59,94.81 L607.20,94.80 L607.82,94.79 L608.43,94.78 L609.04,94.76 L609.66,94.75 L610.27,94.74 L610.89,94.73 L611.50,94.72 L612.11,94.71 L612.73,94.69 L613.34,94.68 L613.96,94.67 L614.57,94.66 L615.18,94.65 L615.80,94.63 L616.41,94.62 L617.03,94.61 L617.64,94.60 L618.25,94.59 L618.87,94.58 L619.48,94.56 L620.10,94.55 L620.71,94.54 L621.32,94.53 L621.94,94.52 L622.55,94.51 L623.17,94.49 L623.78,94.48 L624.39,94.47 L625.01,94.46 L625.62,94.45 L626.24,94.43 L626.85,94.42 L627.46,94.41 L628.08,94.40 L628.69,94.39 L629.31,94.38 L629.92,94.36 L630.53,94.35 L631.15,94.34 L631.76,94.33 L632.38,94.32 L632.99,94.31 L632.99,94.55 L632.38,95.13 L631.76,95.71 L631.15,96.28 L630.53,96.85 L629.92,97.41 L629.31,97.97 L628.69,98.52 L628.08,99.06 L627.46,99.60 L626.85,100.14 L626.24,100.67 L625.62,101.19 L625.01,101.71 L624.39,102.22 L623.78,102.73 L623.17,103.24 L622.55,103.73 L621.94,104.23 L621.32,104.72 L620.71,105.20 L620.10,105.68 L619.48,106.16 L618.87,106.63 L618.25,107.10 L617.64,107.56 L617.03,108.02 L616.41,108.47 L615.80,108.92 L615.18,109.37 L614.57,109.81 L613.96,110.25 L613.34,110.68 L612.73,111.11 L612.11,111.54 L611.50,111.96 L610.89,112.38 L610.27,112.80 L609.66,113.21 L609.04,113.62 L608.43,114.02 L607.82,114.42 L607.20,114.82 L606.59,115.22 L605.97,115.61 L605.36,115.99 L604.75,116.38 L604.13,116.76 L603.52,117.14 L602.90,117.51 L602.29,117.89 L601.68,118.25 L601.06,118.62 L600.45,118.98 L599.83,119.34 L599.22,119.70 L598.61,120.05 L597.99,120.40 L597.38,120.75 L596.76,121.10 L596.15,121.11 L595.54,121.12 L594.92,121.13 L594.31,121.14 L593.69,121.15 L593.08,121.16 L592.47,121.17 L591.85,121.18 L591.24,121.19 L590.62,121.20 L590.01,121.20 L589.40,121.21 L588.78,121.22 L588.17,121.23 L587.55,121.24 L586.94,121.25 L586.33,121.26 L585.71,121.27 L585.10,121.28 L584.49,121.29 L583.87,121.30 L583.26,121.31 L582.64,121.32 L582.03,121.33 L581.42,121.34 L580.80,121.35 L580.19,121.36 L579.57,121.36 L578.96,121.37 L578.35,121.38 L577.73,121.39 L577.12,121.40 L576.50,121.41 L575.89,121.42 L575.28,121.43 L574.66,121.44 L574.05,121.45 L573.43,121.46 L572.82,121.47 L572.21,121.48 L571.59,121.49 L570.98,121.50 L570.36,121.51 L569.75,121.52 L569.14,121.52 L568.52,121.53 L567.91,121.54 L567.29,121.55 L566.68,121.56 L566.07,121.57 L565.45,121.58 L564.84,121.59 L564.22,121.60 L563.61,121.61 L563.00,121.62 L562.38,121.63 L561.77,121.64 L561.15,121.65 L560.54,121.66 L559.93,121.67 L559.31,121.68 L558.70,121.68 L558.08,121.69 L557.47,121.70 L556.86,121.71 L556.24,121.72 L555.63,121.73 L555.01,121.74 L554.40,121.75 L553.79,121.76 L553.17,121.77 L552.56,121.78 L551.94,121.79 L551.33,121.80 L550.72,121.81 L550.10,121.82 L549.49,121.83 L548.87,121.84 L548.26,121.84 L547.65,121.85 L547.03,121.86 L546.42,121.87 L545.80,121.88 L545.19,121.89 L544.58,121.90 L543.96,121.91 L543.35,121.92 L542.73,121.93 L542.12,121.94 L541.51,121.95 L540.89,121.96 L540.28,121.97 L539.66,121.98 L539.05,121.99 L538.44,122.00 L537.82,122.00 L537.21,122.01 L536.59,122.02 L535.98,122.03 L535.37,122.04 L534.75,122.05 L534.14,122.06 L533.52,122.07 L532.91,122.08 L532.30,122.09 L531.68,122.10 L531.07,122.11 L530.45,122.12 L529.84,122.13 L529.23,122.14 L528.61,122.15 L528.00,122.15 L527.39,122.16 L526.77,122.17 L526.16,122.18 L525.54,122.19 L524.93,122.20 L524.32,122.21 L523.70,122.22 L523.09,122.23 L522.47,122.24 L521.86,122.25 L521.25,122.26 L520.63,122.27 L520.02,122.28 L519.40,122.29 L518.79,122.30 L518.18,122.31 L517.56,122.31 L516.95,122.32 L516.33,122.33 L515.72,122.34 L515.11,122.35 L514.49,122.36 L513.88,122.37 L513.26,122.38 L512.65,122.39 L512.04,122.40 L511.42,122.41 L510.81,122.42 L510.19,122.43 L509.58,122.44 L508.97,122.45 L508.35,122.46 L507.74,122.47 L507.12,122.47 L506.51,122.48 L505.90,122.49 L505.28,122.50 L504.67,122.51 L504.05,122.52 L503.44,122.53 L502.83,122.54 L502.21,122.55 L501.60,122.56 L500.98,122.57 L500.37,122.58 L499.76,122.59 L499.14,122.60 L498.53,122.61 L497.91,122.62 L497.30,122.63 L496.69,122.63 L496.07,122.64 L495.46,122.65 L494.84,122.66 L494.23,122.67 L493.62,122.68 L493.00,122.69 L492.39,122.70 L491.77,122.71 L491.16,122.72 L490.55,122.73 L489.93,122.74 L489.32,122.75 L488.70,122.76 L488.09,122.77 L487.48,122.78 L486.86,122.79 L486.25,122.79 L485.63,122.80 L485.02,122.81 L484.41,122.82 L483.79,122.83 L483.18,122.84 L482.56,122.85 L481.95,122.86 L481.34,122.87 L480.72,122.88 L480.11,122.89 L479.49,122.90 L478.88,122.91 L478.27,122.92 L477.65,122.93 L477.04,122.94 L476.42,122.95 L475.81,122.95 L475.20,122.96 L474.58,122.97 L473.97,122.98 L473.35,122.99 L472.74,123.00 L472.13,123.01 L471.51,123.02 L470.90,123.03 L470.28,123.04 L469.67,123.05 L469.06,123.06 L468.44,123.07 L467.83,123.08 L467.22,123.09 L466.60,123.10 L465.99,123.10 L465.37,123.11 L464.76,123.12 L464.15,123.13 L463.53,123.14 L462.92,123.15 L462.30,123.16 L461.69,123.17 L461.08,123.18 L460.46,123.19 L459.85,123.20 L459.23,123.21 L458.62,123.22 L458.01,123.23 L457.39,123.24 L456.78,123.25 L456.16,123.26 L455.55,123.26 L454.94,123.27 L454.32,123.28 L453.71,123.29 L453.09,123.30 L452.48,123.31 L451.87,123.32 L451.25,123.33 L450.64,123.34 L450.02,123.35 L449.41,123.36 L448.80,123.37 L448.18,123.38 L447.57,123.39 L446.95,123.40 L446.34,123.41 L445.73,123.42 L445.11,123.42 L444.50,123.43 L443.88,123.44 L443.27,123.45 L442.66,123.46 L442.04,123.47 L441.43,123.48 L440.81,123.49 L440.20,123.50Z" fill="#ff0000" stroke="#ff0000" stroke-width="0.4"/>
<path d="M440.20,123.50 L440.81,123.49 L441.43,123.48 L442.04,123.47 L442.66,123.46 L443.27,123.45 L443.88,123.44 L444.50,123.43 L445.11,123.42 L445.73,123.42 L446.34,123.41 L446.95,123.40 L447.57,123.39 L448.18,123.38 L448.80,123.37 L449.41,123.36 L450.02,123.35 L450.64,123.34 L451.25,123.33 L451.87,123.32 L452.48,123.31 L453.09,123.30 L453.71,123.29 L454.32,123.28 L454.94,123.27 L455.55,123.26 L456.16,123.26 L456.78,123.25 L457.39,123.24 L458.01,123.23 L458.62,123.22 L459.23,123.21 L459.85,123.20 L460.46,123.19 L461.08,123.18 L461.69,123.17 L462.30,123.16 L462.92,123.15 L463.53,123.14 L464.15,123.13 L464.76,123.12 L465.37,123.11 L465.99,123.10 L466.60,123.10 L467.22,123.09 L467.83,123.08 L468.44,123.07 L469.06,123.06 L469.67,123.05 L470.28,123.04 L470.90,123.03 L471.51,123.02 L472.13,123.01 L472.74,123.00 L473.35,122.99 L473.97,122.98 L474.58,122.97 L475.20,122.96 L475.81,122.95 L476.42,122.95 L477.04,122.94 L477.65,122.93 L478.27,122.92 L478.88,122.91 L479.49,122.90 L480.11,122.89 L480.72,122.88 L481.34,122.87 L481.95,122.86 L482.56,122.85 L483.18,122.84 L483.79,122.83 L484.41,122.82 L485.02,122.81 L485.63,122.80 L486.25,122.79 L486.86,122.79 L487.48,122.78 L488.09,122.77 L488.70,122.76 L489.32,122.75 L489.93,122.74 L490.55,122.73 L491.16,122.72 L491.77,122.71 L492.39,122.70 L493.00,122.69 L493.62,122.68 L494.23,122.67 L494.84,122.66 L495.46,122.65 L496.07,122.64 L496.69,122.63 L497.30,122.63 L497.91,122.62 L498.53,122.61 L499.14,122.60 L499.76,122.59 L500.37,122.58 L500.98,122.57 L501.60,122.56 L502.21,122.55 L502.83,122.54 L503.44,122.53 L504.05,122.52 L504.67,122.51 L505.28,122.50 L505.90,122.49 L506.51,122.48 L507.12,122.47 L507.74,122.47 L508.35,122.46 L508.97,122.45 L509.58,122.44 L510.19,122.43 L510.81,122.42 L511.42,122.41 L512.04,122.40 L512.65,122.39 L513.26,122.38 L513.88,122.37 L514.49,122.36 L515.11,122.35 L515.72,122.34 L516.33,122.33 L516.95,122.32 L517.56,122.31 L518.18,122.31 L518.79,122.30 L519.40,122.29 L520.02,122.28 L520.63,122.27 L521.25,122.26 L521.86,122.25 L522.47,122.24 L523.09,122.23 L523.70,122.22 L524.32,122.21 L524.93,122.20 L525.54,122.19 L526.16,122.18 L526.77,122.17 L527.39,122.16 L528.00,122.15 L528.61,122.15 L529.23,122.14 L529.84,122.13 L530.45,122.12 L531.07,122.11 L531.68,122.10 L532.30,122.09 L532.91,122.08 L533.52,122.07 L534.14,122.06 L534.75,122.05 L535.37,122.04 L535.98,122.03 L536.59,122.02 L537.21,122.01 L537.82,122.00 L538.44,122.00 L539.05,121.99 L539.66,121.98 L540.28,121.97 L540.89,121.96 L541.51,121.95 L542.12,121.94 L542.73,121.93 L543.35,121.92 L543.96,121.91 L544.58,121.90 L545.19,121.89 L545.80,121.88 L546.42,121.87 L547.03,121.86 L547.65,121.85 L548.26,121.84 L548.87,121.84 L549.49,121.83 L550.10,121.82 L550.72,121.81 L551.33,121.80 L551.94,121.79 L552.56,121.78 L553.17,121.77 L553.79,121.76 L554.40,121.75 L555.01,121.74 L555.63,121.73 L556.24,121.72 L556.86,121.71 L557.47,121.70 L558.08,121.69 L558.70,121.68 L559.31,121.68 L559.93,121.67 L560.54,121.66 L561.15,121.65 L561.77,121.64 L562.38,121.63 L563.00,121.62 L563.61,121.61 L564.22,121.60 L564.84,121.59 L565.45,121.58 L566.07,121.57 L566.68,121.56 L567.29,121.55 L567.91,121.54 L568.52,121.53 L569.14,121.52 L569.75,121.52 L570.36,121.51 L570.98,121.50 L571.59,121.49 L572.21,121.48 L572.82,121.47 L573.43,121.46 L574.05,121.45 L574.66,121.44 L575.28,121.43 L575.89,121.42 L576.50,121.41 L577.12,121.40 L577.73,121.39 L578.35,121.38 L578.96,121.37 L579.57,121.36 L580.19,121.36 L580.80,121.35 L581.42,121.34 L582.03,121.33 L582.64,121.32 L583.26,121.31 L583.87,121.30 L584.49,121.29 L585.10,121.28 L585.71,121.27 L586.33,121.26 L586.94,121.25 L587.55,121.24 L588.17,121.23 L588.78,121.22 L589.40,121.21 L590.01,121.20 L590.62,121.20 L591.24,121.19 L591.85,121.18 L592.47,121.17 L593.08,121.16 L593.69,121.15 L594.31,121.14 L594.92,121.13 L595.54,121.12 L596.15,121.11 L596.15,121.44 L595.54,121.78 L594.92,122.12 L594.31,122.45 L593.69,122.79 L593.08,123.12 L592.47,123.44 L591.85,123.77 L591.24,124.09 L590.62,124.41 L590.01,124.73 L589.40,125.04 L588.78,125.35 L588.17,125.66 L587.55,125.97 L586.94,126.28 L586.33,126.58 L585.71,126.88 L585.10,127.18 L584.49,127.48 L583.87,127.77 L583.26,128.06 L582.64,128.35 L582.03,128.64 L581.42,128.93 L580.80,129.21 L580.19,129.49 L579.57,129.77 L578.96,130.05 L578.35,130.32 L577.73,130.60 L577.12,130.87 L576.50,131.14 L575.89,131.41 L575.28,131.67 L574.66,131.94 L574.05,132.20 L573.43,132.46 L572.82,132.72 L572.21,132.98 L571.59,133.23 L570.98,133.49 L570.36,133.74 L569.75,133.99 L569.14,134.24 L568.52,134.48 L567.91,134.73 L567.29,134.97 L566.68,135.21 L566.07,135.45 L565.45,135.69 L564.84,135.93 L564.22,136.16 L563.61,136.40 L563.00,136.63 L562.38,136.86 L561.77,137.09 L561.15,137.32 L560.54,137.54 L559.93,137.77 L559.31,137.99 L558.70,138.21 L558.08,138.44 L557.47,138.65 L556.86,138.87 L556.24,139.09 L555.63,139.30 L555.01,139.52 L554.40,139.73 L553.79,139.94 L553.17,140.15 L552.56,140.36 L551.94,140.57 L551.33,140.77 L550.72,140.98 L550.10,141.18 L549.49,141.38 L548.87,141.58 L548.26,141.78 L547.65,141.98 L547.03,142.18 L546.42,142.38 L545.80,142.57 L545.19,142.77 L544.58,142.96 L543.96,143.15 L543.35,143.34 L542.73,143.53 L542.12,143.72 L541.51,143.90 L540.89,144.09 L540.28,144.28 L539.66,144.46 L539.05,144.64 L538.44,144.82 L537.82,145.00 L537.21,145.18 L536.59,145.36 L535.98,145.54 L535.37,145.72 L534.75,145.89 L534.14,146.07 L533.52,146.24 L532.91,146.41 L532.30,146.58 L531.68,146.75 L531.07,146.92 L530.45,147.09 L529.84,147.26 L529.23,147.43 L528.61,147.59 L528.00,147.76 L527.39,147.92 L526.77,148.09 L526.16,148.25 L525.54,148.41 L524.93,148.57 L524.32,148.73 L523.70,148.89 L523.09,149.05 L522.47,149.20 L521.86,149.36 L521.25,149.52 L520.63,149.67 L520.02,149.82 L519.40,149.98 L518.79,150.13 L518.18,150.28 L517.56,150.43 L516.95,150.58 L516.33,150.73 L515.72,150.88 L515.11,151.03 L514.49,151.17 L513.88,151.32 L513.26,151.46 L512.65,151.61 L512.04,151.75 L511.42,151.89 L510.81,152.04 L510.19,152.18 L509.58,152.32 L508.97,152.46 L508.35,152.60 L507.74,152.74 L507.12,152.88 L506.51,153.01 L505.90,153.15 L505.28,153.29 L504.67,153.42 L504.05,153.55 L503.44,153.69 L502.83,153.82 L502.21,153.95 L501.60,154.09 L500.98,154.22 L500.37,154.35 L499.76,154.48 L499.14,154.61 L498.53,154.74 L497.91,154.86 L497.30,154.99 L496.69,155.12 L496.07,155.24 L495.46,155.37 L494.84,155.50 L494.23,155.62 L493.62,155.74 L493.00,155.87 L492.39,155.99 L491.77,156.11 L491.16,156.23 L490.55,156.35 L489.93,156.47 L489.32,156.59 L488.70,156.71 L488.09,156.83 L487.48,156.95 L486.86,157.07 L486.25,157.18 L485.63,157.30 L485.02,157.42 L484.41,157.53 L483.79,157.65 L483.18,157.76 L482.56,157.88 L481.95,157.99 L481.34,158.10 L480.72,158.21 L480.11,158.33 L479.49,158.44 L478.88,158.55 L478.27,158.66 L477.65,158.77 L477.04,158.88 L476.42,158.99 L475.81,159.09 L475.20,159.20 L474.58,159.31 L473.97,159.42 L473.35,159.52 L472.74,159.63 L472.13,159.73 L471.51,159.84 L470.90,159.94 L470.28,160.05 L469.67,160.15 L469.06,160.25 L468.44,160.36 L467.83,160.46 L467.22,160.56 L466.60,160.66 L465.99,160.76 L465.37,160.86 L464.76,160.96 L464.15,161.06 L463.53,161.16 L462.92,161.26 L462.30,161.36 L461.69,161.46 L461.08,161.56 L460.46,161.65 L459.85,161.75 L459.23,161.85 L458.62,161.94 L458.01,162.04 L457.39,162.13 L456.78,162.23 L456.16,162.32 L455.55,162.42 L454.94,162.51 L454.32,162.60 L453.71,162.69 L453.09,162.79 L452.48,162.88 L451.87,162.97 L451.25,163.06 L450.64,163.15 L450.02,163.24 L449.41,163.33 L448.80,163.42 L448.18,163.51 L447.57,163.60 L446.95,163.69 L446.34,163.78 L445.73,163.87 L445.11,163.95 L444.50,164.04 L443.88,164.13 L443.27,164.22 L442.66,164.30 L442.04,164.39 L441.43,164.47 L440.81,164.56 L440.20,164.64Z" fill="#ff9900" stroke="#ff9900" stroke-width="0.4"/>
<line x1="595.97" y1="121.54" x2="595.97" y2="95.01" stroke="#402000" stroke-width="0.6" opacity="0.05"/>
<line x1="480.59" y1="77.50" x2="480.59" y2="96.90" stroke="#40e400" stroke-width="0.55"/>
<rect x="434.10" y="7.50" width="322.90" height="200.00" fill="none" stroke="#111111" stroke-width="1.25"/>
<line x1="440.20" y1="207.50" x2="750.86" y2="207.50" stroke="#a00000" stroke-width="1.7" opacity="0.28"/>
<path d="M440.20,207.50v-4.40M440.20,7.50v4.40M449.08,207.50v-2.80M449.08,7.50v2.80M457.95,207.50v-2.80M457.95,7.50v2.80M466.83,207.50v-2.80M466.83,7.50v2.80M475.70,207.50v-2.80M475.70,7.50v2.80M484.58,207.50v-4.40M484.58,7.50v4.40M493.46,207.50v-2.80M493.46,7.50v2.80M502.33,207.50v-2.80M502.33,7.50v2.80M511.21,207.50v-2.80M511.21,7.50v2.80M520.08,207.50v-2.80M520.08,7.50v2.80M528.96,207.50v-4.40M528.96,7.50v4.40M537.84,207.50v-2.80M537.84,7.50v2.80M546.71,207.50v-2.80M546.71,7.50v2.80M555.59,207.50v-2.80M555.59,7.50v2.80M564.46,207.50v-2.80M564.46,7.50v2.80M573.34,207.50v-4.40M573.34,7.50v4.40M582.22,207.50v-2.80M582.22,7.50v2.80M591.09,207.50v-2.80M591.09,7.50v2.80M599.97,207.50v-2.80M599.97,7.50v2.80M608.84,207.50v-2.80M608.84,7.50v2.80M617.72,207.50v-4.40M617.72,7.50v4.40M626.60,207.50v-2.80M626.60,7.50v2.80M635.47,207.50v-2.80M635.47,7.50v2.80M644.35,207.50v-2.80M644.35,7.50v2.80M653.22,207.50v-2.80M653.22,7.50v2.80M662.10,207.50v-4.40M662.10,7.50v4.40M670.98,207.50v-2.80M670.98,7.50v2.80M679.85,207.50v-2.80M679.85,7.50v2.80M688.73,207.50v-2.80M688.73,7.50v2.80M697.60,207.50v-2.80M697.60,7.50v2.80M706.48,207.50v-4.40M706.48,7.50v4.40M715.36,207.50v-2.80M715.36,7.50v2.80M724.23,207.50v-2.80M724.23,7.50v2.80M733.11,207.50v-2.80M733.11,7.50v2.80M741.98,207.50v-2.80M741.98,7.50v2.80M750.86,207.50v-4.40M750.86,7.50v4.40M434.10,207.50h4.40M757.00,207.50h-4.40M434.10,197.50h2.80M757.00,197.50h-2.80M434.10,187.50h2.80M757.00,187.50h-2.80M434.10,177.50h2.80M757.00,177.50h-2.80M434.10,167.50h4.40M757.00,167.50h-4.40M434.10,157.50h2.80M757.00,157.50h-2.80M434.10,147.50h2.80M757.00,147.50h-2.80M434.10,137.50h2.80M757.00,137.50h-2.80M434.10,127.50h4.40M757.00,127.50h-4.40M434.10,117.50h2.80M757.00,117.50h-2.80M434.10,107.50h2.80M757.00,107.50h-2.80M434.10,97.50h2.80M757.00,97.50h-2.80M434.10,87.50h4.40M757.00,87.50h-4.40M434.10,77.50h2.80M757.00,77.50h-2.80M434.10,67.50h2.80M757.00,67.50h-2.80M434.10,57.50h2.80M757.00,57.50h-2.80M434.10,47.50h4.40M757.00,47.50h-4.40M434.10,37.50h2.80M757.00,37.50h-2.80M434.10,27.50h2.80M757.00,27.50h-2.80M434.10,17.50h2.80M757.00,17.50h-2.80M434.10,7.50h4.40M757.00,7.50h-4.40" stroke="#111111" stroke-width="1" fill="none"/>
<text x="440.20" y="220.00" text-anchor="middle" class="tl">0.93</text>
<text x="484.58" y="220.00" text-anchor="middle" class="tl">0.94</text>
<text x="528.96" y="220.00" text-anchor="middle" class="tl">0.95</text>
<text x="573.34" y="220.00" text-anchor="middle" class="tl">0.96</text>
<text x="617.72" y="220.00" text-anchor="middle" class="tl">0.97</text>
<text x="662.10" y="220.00" text-anchor="middle" class="tl">0.98</text>
<text x="706.48" y="220.00" text-anchor="middle" class="tl">0.99</text>
<text x="750.86" y="220.00" text-anchor="middle" class="tl">1.00</text>
<text x="430.80" y="211.00" text-anchor="end" class="tl">0</text>
<text x="430.80" y="171.00" text-anchor="end" class="tl">20</text>
<text x="430.80" y="131.00" text-anchor="end" class="tl">40</text>
<text x="430.80" y="91.00" text-anchor="end" class="tl">60</text>
<text x="430.80" y="51.00" text-anchor="end" class="tl">80</text>
<text x="430.80" y="11.00" text-anchor="end" class="tl">100</text>
<text x="595.85" y="242.30" text-anchor="middle" class="al">n<tspan class="sub" dy="3.5">s</tspan></text>
<text transform="translate(399.50,107.90) rotate(-90)" text-anchor="middle" class="al">N<tspan class="sub" dy="3.5">k</tspan></text>
<text x="454.00" y="31.00" class="pl">p=3</text>
<path d="M166.39,326.03 L167.01,325.62 L167.62,325.20 L168.23,324.78 L168.85,324.36 L169.46,323.94 L170.07,323.51 L170.69,323.08 L171.30,322.65 L171.91,322.21 L172.52,321.77 L173.14,321.33 L173.75,320.89 L174.36,320.44 L174.98,319.99 L175.59,319.54 L176.20,319.08 L176.82,318.62 L177.43,318.16 L178.04,317.69 L178.66,317.23 L179.27,316.76 L179.88,316.28 L180.50,315.80 L181.11,315.32 L181.72,314.84 L182.33,314.35 L182.95,313.86 L183.56,313.37 L184.17,312.87 L184.79,312.37 L185.40,311.87 L186.01,311.36 L186.63,310.85 L187.24,310.34 L187.85,309.82 L188.47,309.30 L189.08,308.78 L189.69,308.25 L190.31,307.71 L190.92,307.18 L191.53,306.64 L192.15,306.10 L192.76,305.55 L193.37,305.00 L193.98,304.44 L194.60,303.88 L195.21,303.32 L195.82,302.75 L196.44,302.18 L197.05,301.60 L197.66,301.02 L198.28,300.44 L198.89,299.85 L199.50,299.26 L200.12,298.66 L200.73,298.06 L201.34,297.45 L201.96,296.84 L202.57,296.23 L203.18,295.61 L203.80,294.98 L204.41,294.35 L205.02,293.72 L205.63,293.08 L206.25,292.44 L206.86,291.79 L207.47,291.13 L208.09,290.47 L208.70,289.81 L209.31,289.14 L209.93,288.46 L210.54,287.78 L211.15,287.10 L211.77,286.41 L212.38,285.71 L212.99,285.01 L213.61,284.30 L214.22,283.59 L214.83,282.87 L215.45,282.14 L216.06,281.41 L216.67,280.67 L217.28,279.93 L217.90,279.18 L218.51,278.42 L219.12,277.66 L219.74,276.89 L220.35,276.11 L220.96,275.33 L221.58,274.54 L222.19,273.75 L222.80,272.94 L223.42,272.14 L224.03,271.32 L224.64,270.50 L225.26,269.66 L225.87,268.83 L226.48,267.98 L227.09,267.13 L227.71,266.27 L228.32,265.40 L228.93,264.52 L229.55,263.64 L230.16,262.75 L230.77,261.85 L231.39,260.94 L232.00,260.02 L232.61,259.90 L233.23,259.90 L233.84,259.90 L234.45,259.90 L235.07,259.90 L235.68,259.90 L236.29,259.90 L236.91,259.90 L237.52,259.90 L238.13,259.90 L238.74,259.90 L239.36,259.90 L239.97,259.90 L240.58,259.90 L241.20,259.90 L241.81,259.90 L242.42,259.90 L243.04,259.90 L243.65,259.90 L244.26,259.90 L244.88,259.90 L245.49,259.90 L246.10,259.90 L246.72,259.90 L247.33,259.90 L247.94,259.90 L248.56,259.90 L249.17,259.90 L249.78,259.90 L250.39,259.90 L251.01,259.90 L251.62,259.90 L252.23,259.90 L252.85,259.90 L253.46,259.90 L254.07,259.90 L254.69,259.90 L255.30,259.90 L255.91,259.90 L256.53,259.90 L257.14,259.90 L257.75,259.90 L258.37,259.90 L258.98,259.90 L259.59,259.90 L260.20,259.90 L260.82,259.90 L261.43,259.90 L262.04,259.90 L262.66,259.90 L263.27,259.90 L263.88,259.90 L264.50,259.90 L265.11,259.90 L265.72,259.90 L266.34,259.90 L266.95,259.90 L267.56,259.90 L268.18,259.90 L268.79,259.90 L269.40,259.90 L270.02,259.90 L270.63,259.90 L271.24,259.90 L271.85,259.90 L272.47,259.90 L273.08,259.90 L273.69,259.90 L274.31,259.90 L274.92,259.90 L275.53,259.90 L276.15,259.90 L276.76,259.90 L277.37,259.90 L277.99,259.90 L278.60,259.90 L279.21,259.90 L279.83,259.90 L280.44,259.90 L281.05,259.90 L281.67,259.90 L282.28,259.90 L282.89,259.90 L283.50,259.90 L284.12,259.90 L284.73,259.90 L285.34,259.90 L285.96,259.90 L286.57,259.90 L287.18,259.90 L287.80,259.90 L288.41,259.90 L289.02,259.90 L289.64,259.90 L290.25,259.90 L290.86,259.90 L291.48,259.90 L292.09,259.90 L292.70,259.90 L293.31,259.90 L293.93,259.90 L294.54,259.90 L295.15,259.90 L295.77,259.90 L296.38,259.90 L296.99,259.90 L297.61,259.90 L298.22,259.90 L298.22,260.92 L297.61,262.73 L296.99,264.50 L296.38,266.25 L295.77,267.96 L295.15,269.65 L294.54,271.30 L293.93,272.93 L293.31,274.53 L292.70,276.10 L292.09,277.64 L291.48,279.16 L290.86,280.65 L290.25,282.12 L289.64,283.57 L289.02,284.99 L288.41,286.39 L287.80,287.77 L287.18,289.12 L286.57,290.46 L285.96,291.77 L285.34,293.07 L284.73,294.34 L284.12,295.59 L283.50,296.83 L282.89,298.05 L282.28,299.25 L281.67,300.43 L281.05,301.59 L280.44,302.74 L279.83,303.87 L279.21,304.98 L278.60,306.08 L277.99,307.17 L277.37,308.24 L276.76,309.29 L276.15,310.33 L275.53,311.35 L274.92,312.36 L274.31,313.36 L273.69,314.34 L273.08,315.31 L272.47,316.27 L271.85,317.22 L271.24,318.15 L270.63,319.07 L270.02,319.91 L269.40,319.93 L268.79,319.94 L268.18,319.96 L267.56,319.98 L266.95,320.00 L266.34,320.02 L265.72,320.04 L265.11,320.06 L264.50,320.08 L263.88,320.10 L263.27,320.12 L262.66,320.14 L262.04,320.16 L261.43,320.18 L260.82,320.20 L260.20,320.22 L259.59,320.24 L258.98,320.26 L258.37,320.28 L257.75,320.30 L257.14,320.32 L256.53,320.34 L255.91,320.36 L255.30,320.38 L254.69,320.40 L254.07,320.42 L253.46,320.43 L252.85,320.45 L252.23,320.47 L251.62,320.49 L251.01,320.51 L250.39,320.53 L249.78,320.55 L249.17,320.57 L248.56,320.59 L247.94,320.61 L247.33,320.63 L246.72,320.65 L246.10,320.67 L245.49,320.69 L244.88,320.71 L244.26,320.73 L243.65,320.75 L243.04,320.77 L242.42,320.79 L241.81,320.81 L241.20,320.83 L240.58,320.85 L239.97,320.87 L239.36,320.89 L238.74,320.90 L238.13,320.92 L237.52,320.94 L236.91,320.96 L236.29,320.98 L235.68,321.00 L235.07,321.02 L234.45,321.04 L233.84,321.06 L233.23,321.08 L232.61,321.10 L232.00,321.12 L231.39,321.14 L230.77,321.16 L230.16,321.18 L229.55,321.20 L228.93,321.22 L228.32,321.24 L227.71,321.26 L227.09,321.28 L226.48,321.30 L225.87,321.32 L225.26,321.34 L224.64,321.36 L224.03,321.37 L223.42,321.39 L222.80,321.41 L222.19,321.43 L221.58,321.45 L220.96,321.47 L220.35,321.49 L219.74,321.52 L219.12,321.55 L218.51,321.58 L217.90,321.61 L217.28,321.64 L216.67,321.67 L216.06,321.70 L215.45,321.73 L214.83,321.76 L214.22,321.79 L213.61,321.81 L212.99,321.84 L212.38,321.87 L211.77,321.90 L211.15,321.93 L210.54,321.96 L209.93,321.99 L209.31,322.02 L208.70,322.05 L208.09,322.08 L207.47,322.11 L206.86,322.14 L206.25,322.17 L205.63,322.20 L205.02,322.23 L204.41,322.26 L203.80,322.29 L203.18,322.32 L202.57,322.35 L201.96,322.38 L201.34,322.41 L200.73,322.44 L200.12,322.47 L199.50,322.50 L198.89,322.53 L198.28,322.56 L197.66,322.59 L197.05,322.62 L196.44,322.64 L195.82,322.67 L195.21,322.71 L194.60,322.76 L193.98,322.82 L193.37,322.87 L192.76,322.93 L192.15,322.98 L191.53,323.04 L190.92,323.09 L190.31,323.15 L189.69,323.21 L189.08,323.26 L188.47,323.32 L187.85,323.37 L187.24,323.43 L186.63,323.48 L186.01,323.54 L185.40,323.59 L184.79,323.65 L184.17,323.70 L183.56,323.76 L182.95,323.81 L182.33,323.87 L181.72,323.92 L181.11,323.98 L180.50,324.04 L179.88,324.09 L179.27,324.18 L178.66,324.27 L178.04,324.36 L177.43,324.45 L176.82,324.55 L176.20,324.64 L175.59,324.73 L174.98,324.82 L174.36,324.92 L173.75,325.01 L173.14,325.10 L172.52,325.19 L171.91,325.28 L171.30,325.38 L170.69,325.47 L170.07,325.56 L169.46,325.65 L168.85,325.75 L168.23,325.84 L167.62,325.93 L167.01,326.02 L166.39,326.10Z" fill="#00ff00" stroke="#00ff00" stroke-width="0.4"/>
<path d="M119.18,351.74 L119.79,351.47 L120.41,351.20 L121.02,350.93 L121.63,350.65 L122.25,350.37 L122.86,350.10 L123.47,349.82 L124.09,349.54 L124.70,349.26 L125.31,348.97 L125.93,348.69 L126.54,348.40 L127.15,348.12 L127.76,347.83 L128.38,347.54 L128.99,347.25 L129.60,346.95 L130.22,346.66 L130.83,346.36 L131.44,346.06 L132.06,345.76 L132.67,345.46 L133.28,345.16 L133.90,344.85 L134.51,344.55 L135.12,344.24 L135.74,343.93 L136.35,343.62 L136.96,343.31 L137.58,342.99 L138.19,342.68 L138.80,342.36 L139.41,342.04 L140.03,341.72 L140.64,341.40 L141.25,341.07 L141.87,340.75 L142.48,340.42 L143.09,340.09 L143.71,339.76 L144.32,339.42 L144.93,339.09 L145.55,338.75 L146.16,338.41 L146.77,338.07 L147.39,337.72 L148.00,337.38 L148.61,337.03 L149.22,336.68 L149.84,336.33 L150.45,335.98 L151.06,335.62 L151.68,335.27 L152.29,334.91 L152.90,334.55 L153.52,334.18 L154.13,333.82 L154.74,333.45 L155.36,333.08 L155.97,332.71 L156.58,332.33 L157.20,331.96 L157.81,331.58 L158.42,331.20 L159.04,330.82 L159.65,330.43 L160.26,330.04 L160.87,329.65 L161.49,329.26 L162.10,328.87 L162.71,328.47 L163.33,328.07 L163.94,327.67 L164.55,327.26 L165.17,326.86 L165.78,326.45 L166.39,326.10 L167.01,326.02 L167.62,325.93 L168.23,325.84 L168.85,325.75 L169.46,325.65 L170.07,325.56 L170.69,325.47 L171.30,325.38 L171.91,325.28 L172.52,325.19 L173.14,325.10 L173.75,325.01 L174.36,324.92 L174.98,324.82 L175.59,324.73 L176.20,324.64 L176.82,324.55 L177.43,324.45 L178.04,324.36 L178.66,324.27 L179.27,324.18 L179.88,324.09 L180.50,324.04 L181.11,323.98 L181.72,323.92 L182.33,323.87 L182.95,323.81 L183.56,323.76 L184.17,323.70 L184.79,323.65 L185.40,323.59 L186.01,323.54 L186.63,323.48 L187.24,323.43 L187.85,323.37 L188.47,323.32 L189.08,323.26 L189.69,323.21 L190.31,323.15 L190.92,323.09 L191.53,323.04 L192.15,322.98 L192.76,322.93 L193.37,322.87 L193.98,322.82 L194.60,322.76 L195.21,322.71 L195.82,322.67 L196.44,322.64 L197.05,322.62 L197.66,322.59 L198.28,322.56 L198.89,322.53 L199.50,322.50 L200.12,322.47 L200.73,322.44 L201.34,322.41 L201.96,322.38 L202.57,322.35 L203.18,322.32 L203.80,322.29 L204.41,322.26 L205.02,322.23 L205.63,322.20 L206.25,322.17 L206.86,322.14 L207.47,322.11 L208.09,322.08 L208.70,322.05 L209.31,322.02 L209.93,321.99 L210.54,321.96 L211.15,321.93 L211.77,321.90 L212.38,321.87 L212.99,321.84 L213.61,321.81 L214.22,321.79 L214.83,321.76 L215.45,321.73 L216.06,321.70 L216.67,321.67 L217.28,321.64 L217.90,321.61 L218.51,321.58 L219.12,321.55 L219.74,321.52 L220.35,321.49 L220.96,321.47 L221.58,321.45 L222.19,321.43 L222.80,321.41 L223.42,321.39 L224.03,321.37 L224.64,321.36 L225.26,321.34 L225.87,321.32 L226.48,321.30 L227.09,321.28 L227.71,321.26 L228.32,321.24 L228.93,321.22 L229.55,321.20 L230.16,321.18 L230.77,321.16 L231.39,321.14 L232.00,321.12 L232.61,321.10 L233.23,321.08 L233.84,321.06 L234.45,321.04 L235.07,321.02 L235.68,321.00 L236.29,320.98 L236.91,320.96 L237.52,320.94 L238.13,320.92 L238.74,320.90 L239.36,320.89 L239.97,320.87 L240.58,320.85 L241.20,320.83 L241.81,320.81 L242.42,320.79 L243.04,320.77 L243.65,320.75 L244.26,320.73 L244.88,320.71 L245.49,320.69 L246.10,320.67 L246.72,320.65 L247.33,320.63 L247.94,320.61 L248.56,320.59 L249.17,320.57 L249.78,320.55 L250.39,320.53 L251.01,320.51 L251.62,320.49 L252.23,320.47 L252.85,320.45 L253.46,320.43 L254.07,320.42 L254.69,320.40 L255.30,320.38 L255.91,320.36 L256.53,320.34 L257.14,320.32 L257.75,320.30 L258.37,320.28 L258.98,320.26 L259.59,320.24 L260.20,320.22 L260.82,320.20 L261.43,320.18 L262.04,320.16 L262.66,320.14 L263.27,320.12 L263.88,320.10 L264.50,320.08 L265.11,320.06 L265.72,320.04 L266.34,320.02 L266.95,320.00 L267.56,319.98 L268.18,319.96 L268.79,319.94 L269.40,319.93 L270.02,319.91 L270.02,319.98 L269.40,320.88 L268.79,321.76 L268.18,322.64 L267.56,323.50 L266.95,324.35 L266.34,325.19 L265.72,326.03 L265.11,326.85 L264.50,327.66 L263.88,328.46 L263.27,329.25 L262.66,330.03 L262.04,330.81 L261.43,331.57 L260.82,332.33 L260.20,333.07 L259.59,333.81 L258.98,334.54 L258.37,335.26 L257.75,335.97 L257.14,336.68 L256.53,337.37 L255.91,338.06 L255.30,338.74 L254.69,339.41 L254.07,340.08 L253.46,340.74 L252.85,341.39 L252.23,342.03 L251.62,342.67 L251.01,343.30 L250.39,343.93 L249.78,344.54 L249.17,345.15 L248.56,345.76 L247.94,346.35 L247.33,346.71 L246.72,346.72 L246.10,346.73 L245.49,346.74 L244.88,346.75 L244.26,346.76 L243.65,346.78 L243.04,346.79 L242.42,346.80 L241.81,346.81 L241.20,346.82 L240.58,346.83 L239.97,346.85 L239.36,346.86 L238.74,346.87 L238.13,346.88 L237.52,346.89 L236.91,346.90 L236.29,346.92 L235.68,346.93 L235.07,346.94 L234.45,346.95 L233.84,346.96 L233.23,346.97 L232.61,346.99 L232.00,347.00 L231.39,347.01 L230.77,347.02 L230.16,347.03 L229.55,347.05 L228.93,347.06 L228.32,347.07 L227.71,347.08 L227.09,347.09 L226.48,347.10 L225.87,347.12 L225.26,347.13 L224.64,347.14 L224.03,347.15 L223.42,347.16 L222.80,347.17 L222.19,347.19 L221.58,347.20 L220.96,347.21 L220.35,347.22 L219.74,347.23 L219.12,347.24 L218.51,347.26 L217.90,347.27 L217.28,347.28 L216.67,347.29 L216.06,347.30 L215.45,347.31 L214.83,347.33 L214.22,347.34 L213.61,347.35 L212.99,347.36 L212.38,347.37 L211.77,347.39 L211.15,347.40 L210.54,347.41 L209.93,347.42 L209.31,347.43 L208.70,347.44 L208.09,347.46 L207.47,347.47 L206.86,347.48 L206.25,347.49 L205.63,347.50 L205.02,347.51 L204.41,347.53 L203.80,347.54 L203.18,347.55 L202.57,347.56 L201.96,347.57 L201.34,347.58 L200.73,347.60 L200.12,347.61 L199.50,347.62 L198.89,347.63 L198.28,347.64 L197.66,347.65 L197.05,347.67 L196.44,347.68 L195.82,347.69 L195.21,347.70 L194.60,347.72 L193.98,347.73 L193.37,347.75 L192.76,347.76 L192.15,347.78 L191.53,347.80 L190.92,347.81 L190.31,347.83 L189.69,347.84 L189.08,347.86 L188.47,347.87 L187.85,347.89 L187.24,347.90 L186.63,347.92 L186.01,347.94 L185.40,347.95 L184.79,347.97 L184.17,347.98 L183.56,348.00 L182.95,348.01 L182.33,348.03 L181.72,348.05 L181.11,348.06 L180.50,348.08 L179.88,348.09 L179.27,348.11 L178.66,348.12 L178.04,348.14 L177.43,348.15 L176.82,348.17 L176.20,348.19 L175.59,348.20 L174.98,348.22 L174.36,348.23 L173.75,348.25 L173.14,348.26 L172.52,348.28 L171.91,348.29 L171.30,348.31 L170.69,348.33 L170.07,348.34 L169.46,348.36 L168.85,348.37 L168.23,348.39 L167.62,348.40 L167.01,348.42 L166.39,348.43 L165.78,348.45 L165.17,348.47 L164.55,348.48 L163.94,348.50 L163.33,348.53 L162.71,348.56 L162.10,348.60 L161.49,348.63 L160.87,348.67 L160.26,348.70 L159.65,348.74 L159.04,348.77 L158.42,348.80 L157.81,348.84 L157.20,348.87 L156.58,348.91 L155.97,348.94 L155.36,348.98 L154.74,349.01 L154.13,349.05 L153.52,349.08 L152.90,349.12 L152.29,349.15 L151.68,349.19 L151.06,349.22 L150.45,349.25 L149.84,349.29 L149.22,349.32 L148.61,349.36 L148.00,349.39 L147.39,349.43 L146.77,349.46 L146.16,349.50 L145.55,349.53 L144.93,349.57 L144.32,349.60 L143.71,349.63 L143.09,349.67 L142.48,349.70 L141.87,349.74 L141.25,349.77 L140.64,349.81 L140.03,349.84 L139.41,349.88 L138.80,349.91 L138.19,349.95 L137.58,349.98 L136.96,350.02 L136.35,350.05 L135.74,350.08 L135.12,350.12 L134.51,350.15 L133.90,350.19 L133.28,350.22 L132.67,350.26 L132.06,350.29 L131.44,350.36 L130.83,350.43 L130.22,350.50 L129.60,350.58 L128.99,350.65 L128.38,350.73 L127.76,350.80 L127.15,350.87 L126.54,350.95 L125.93,351.02 L125.31,351.09 L124.70,351.17 L124.09,351.24 L123.47,351.32 L122.86,351.39 L122.25,351.46 L121.63,351.54 L121.02,351.61 L120.41,351.69 L119.79,351.76 L119.18,351.83Z" fill="#f0f00a" stroke="#f0f00a" stroke-width="0.4"/>
<path d="M54.80,374.19 L55.41,374.02 L56.03,373.85 L56.64,373.67 L57.25,373.50 L57.87,373.33 L58.48,373.16 L59.09,372.98 L59.71,372.81 L60.32,372.63 L60.93,372.46 L61.54,372.28 L62.16,372.10 L62.77,371.93 L63.38,371.75 L64.00,371.57 L64.61,371.39 L65.22,371.21 L65.84,371.02 L66.45,370.84 L67.06,370.66 L67.68,370.47 L68.29,370.29 L68.90,370.10 L69.52,369.92 L70.13,369.73 L70.74,369.54 L71.36,369.35 L71.97,369.16 L72.58,368.97 L73.19,368.78 L73.81,368.59 L74.42,368.40 L75.03,368.21 L75.65,368.01 L76.26,367.82 L76.87,367.62 L77.49,367.42 L78.10,367.23 L78.71,367.03 L79.33,366.83 L79.94,366.63 L80.55,366.43 L81.17,366.22 L81.78,366.02 L82.39,365.82 L83.00,365.61 L83.62,365.41 L84.23,365.20 L84.84,364.99 L85.46,364.79 L86.07,364.58 L86.68,364.37 L87.30,364.16 L87.91,363.95 L88.52,363.73 L89.14,363.52 L89.75,363.30 L90.36,363.09 L90.98,362.87 L91.59,362.65 L92.20,362.44 L92.82,362.22 L93.43,362.00 L94.04,361.77 L94.65,361.55 L95.27,361.33 L95.88,361.10 L96.49,360.88 L97.11,360.65 L97.72,360.42 L98.33,360.19 L98.95,359.97 L99.56,359.73 L100.17,359.50 L100.79,359.27 L101.40,359.04 L102.01,358.80 L102.63,358.56 L103.24,358.33 L103.85,358.09 L104.47,357.85 L105.08,357.61 L105.69,357.37 L106.30,357.12 L106.92,356.88 L107.53,356.63 L108.14,356.39 L108.76,356.14 L109.37,355.89 L109.98,355.64 L110.60,355.39 L111.21,355.14 L111.82,354.88 L112.44,354.63 L113.05,354.37 L113.66,354.11 L114.28,353.86 L114.89,353.60 L115.50,353.34 L116.11,353.07 L116.73,352.81 L117.34,352.54 L117.95,352.28 L118.57,352.01 L119.18,351.83 L119.79,351.76 L120.41,351.69 L121.02,351.61 L121.63,351.54 L122.25,351.46 L122.86,351.39 L123.47,351.32 L124.09,351.24 L124.70,351.17 L125.31,351.09 L125.93,351.02 L126.54,350.95 L127.15,350.87 L127.76,350.80 L128.38,350.73 L128.99,350.65 L129.60,350.58 L130.22,350.50 L130.83,350.43 L131.44,350.36 L132.06,350.29 L132.67,350.26 L133.28,350.22 L133.90,350.19 L134.51,350.15 L135.12,350.12 L135.74,350.08 L136.35,350.05 L136.96,350.02 L137.58,349.98 L138.19,349.95 L138.80,349.91 L139.41,349.88 L140.03,349.84 L140.64,349.81 L141.25,349.77 L141.87,349.74 L142.48,349.70 L143.09,349.67 L143.71,349.63 L144.32,349.60 L144.93,349.57 L145.55,349.53 L146.16,349.50 L146.77,349.46 L147.39,349.43 L148.00,349.39 L148.61,349.36 L149.22,349.32 L149.84,349.29 L150.45,349.25 L151.06,349.22 L151.68,349.19 L152.29,349.15 L152.90,349.12 L153.52,349.08 L154.13,349.05 L154.74,349.01 L155.36,348.98 L155.97,348.94 L156.58,348.91 L157.20,348.87 L157.81,348.84 L158.42,348.80 L159.04,348.77 L159.65,348.74 L160.26,348.70 L160.87,348.67 L161.49,348.63 L162.10,348.60 L162.71,348.56 L163.33,348.53 L163.94,348.50 L164.55,348.48 L165.17,348.47 L165.78,348.45 L166.39,348.43 L167.01,348.42 L167.62,348.40 L168.23,348.39 L168.85,348.37 L169.46,348.36 L170.07,348.34 L170.69,348.33 L171.30,348.31 L171.91,348.29 L172.52,348.28 L173.14,348.26 L173.75,348.25 L174.36,348.23 L174.98,348.22 L175.59,348.20 L176.20,348.19 L176.82,348.17 L177.43,348.15 L178.04,348.14 L178.66,348.12 L179.27,348.11 L179.88,348.09 L180.50,348.08 L181.11,348.06 L181.72,348.05 L182.33,348.03 L182.95,348.01 L183.56,348.00 L184.17,347.98 L184.79,347.97 L185.40,347.95 L186.01,347.94 L186.63,347.92 L187.24,347.90 L187.85,347.89 L188.47,347.87 L189.08,347.86 L189.69,347.84 L190.31,347.83 L190.92,347.81 L191.53,347.80 L192.15,347.78 L192.76,347.76 L193.37,347.75 L193.98,347.73 L194.60,347.72 L195.21,347.70 L195.82,347.69 L196.44,347.68 L197.05,347.67 L197.66,347.65 L198.28,347.64 L198.89,347.63 L199.50,347.62 L200.12,347.61 L200.73,347.60 L201.34,347.58 L201.96,347.57 L202.57,347.56 L203.18,347.55 L203.80,347.54 L204.41,347.53 L205.02,347.51 L205.63,347.50 L206.25,347.49 L206.86,347.48 L207.47,347.47 L208.09,347.46 L208.70,347.44 L209.31,347.43 L209.93,347.42 L210.54,347.41 L211.15,347.40 L211.77,347.39 L212.38,347.37 L212.99,347.36 L213.61,347.35 L214.22,347.34 L214.83,347.33 L215.45,347.31 L216.06,347.30 L216.67,347.29 L217.28,347.28 L217.90,347.27 L218.51,347.26 L219.12,347.24 L219.74,347.23 L220.35,347.22 L220.96,347.21 L221.58,347.20 L222.19,347.19 L222.80,347.17 L223.42,347.16 L224.03,347.15 L224.64,347.14 L225.26,347.13 L225.87,347.12 L226.48,347.10 L227.09,347.09 L227.71,347.08 L228.32,347.07 L228.93,347.06 L229.55,347.05 L230.16,347.03 L230.77,347.02 L231.39,347.01 L232.00,347.00 L232.61,346.99 L233.23,346.97 L233.84,346.96 L234.45,346.95 L235.07,346.94 L235.68,346.93 L236.29,346.92 L236.91,346.90 L237.52,346.89 L238.13,346.88 L238.74,346.87 L239.36,346.86 L239.97,346.85 L240.58,346.83 L241.20,346.82 L241.81,346.81 L242.42,346.80 L243.04,346.79 L243.65,346.78 L244.26,346.76 L244.88,346.75 L245.49,346.74 L246.10,346.73 L246.72,346.72 L247.33,346.71 L247.33,346.95 L246.72,347.53 L246.10,348.11 L245.49,348.68 L244.88,349.25 L244.26,349.81 L243.65,350.37 L243.04,350.92 L242.42,351.46 L241.81,352.00 L241.20,352.54 L240.58,353.07 L239.97,353.59 L239.36,354.11 L238.74,354.62 L238.13,355.13 L237.52,355.64 L236.91,356.13 L236.29,356.63 L235.68,357.12 L235.07,357.60 L234.45,358.08 L233.84,358.56 L233.23,359.03 L232.61,359.50 L232.00,359.96 L231.39,360.42 L230.77,360.87 L230.16,361.32 L229.55,361.77 L228.93,362.21 L228.32,362.65 L227.71,363.08 L227.09,363.51 L226.48,363.94 L225.87,364.36 L225.26,364.78 L224.64,365.20 L224.03,365.61 L223.42,366.02 L222.80,366.42 L222.19,366.82 L221.58,367.22 L220.96,367.62 L220.35,368.01 L219.74,368.39 L219.12,368.78 L218.51,369.16 L217.90,369.54 L217.28,369.91 L216.67,370.29 L216.06,370.65 L215.45,371.02 L214.83,371.38 L214.22,371.74 L213.61,372.10 L212.99,372.45 L212.38,372.80 L211.77,373.15 L211.15,373.50 L210.54,373.52 L209.93,373.53 L209.31,373.54 L208.70,373.56 L208.09,373.57 L207.47,373.59 L206.86,373.60 L206.25,373.62 L205.63,373.63 L205.02,373.64 L204.41,373.66 L203.80,373.67 L203.18,373.69 L202.57,373.70 L201.96,373.71 L201.34,373.73 L200.73,373.74 L200.12,373.76 L199.50,373.77 L198.89,373.78 L198.28,373.80 L197.66,373.81 L197.05,373.83 L196.44,373.84 L195.82,373.85 L195.21,373.87 L194.60,373.88 L193.98,373.90 L193.37,373.91 L192.76,373.93 L192.15,373.94 L191.53,373.95 L190.92,373.97 L190.31,373.98 L189.69,374.00 L189.08,374.01 L188.47,374.02 L187.85,374.04 L187.24,374.05 L186.63,374.07 L186.01,374.08 L185.40,374.09 L184.79,374.11 L184.17,374.12 L183.56,374.14 L182.95,374.15 L182.33,374.17 L181.72,374.18 L181.11,374.19 L180.50,374.21 L179.88,374.22 L179.27,374.24 L178.66,374.25 L178.04,374.26 L177.43,374.28 L176.82,374.29 L176.20,374.31 L175.59,374.32 L174.98,374.33 L174.36,374.35 L173.75,374.36 L173.14,374.38 L172.52,374.39 L171.91,374.41 L171.30,374.42 L170.69,374.43 L170.07,374.45 L169.46,374.46 L168.85,374.48 L168.23,374.49 L167.62,374.50 L167.01,374.52 L166.39,374.53 L165.78,374.55 L165.17,374.56 L164.55,374.57 L163.94,374.59 L163.33,374.60 L162.71,374.62 L162.10,374.63 L161.49,374.65 L160.87,374.66 L160.26,374.67 L159.65,374.69 L159.04,374.70 L158.42,374.72 L157.81,374.73 L157.20,374.74 L156.58,374.76 L155.97,374.77 L155.36,374.79 L154.74,374.80 L154.13,374.81 L153.52,374.83 L152.90,374.84 L152.29,374.86 L151.68,374.87 L151.06,374.88 L150.45,374.90 L149.84,374.91 L149.22,374.93 L148.61,374.94 L148.00,374.96 L147.39,374.97 L146.77,374.98 L146.16,375.00 L145.55,375.01 L144.93,375.03 L144.32,375.04 L143.71,375.05 L143.09,375.07 L142.48,375.08 L141.87,375.10 L141.25,375.11 L140.64,375.12 L140.03,375.14 L139.41,375.15 L138.80,375.17 L138.19,375.18 L137.58,375.20 L136.96,375.21 L136.35,375.22 L135.74,375.24 L135.12,375.25 L134.51,375.27 L133.90,375.28 L133.28,375.29 L132.67,375.31 L132.06,375.32 L131.44,375.34 L130.83,375.35 L130.22,375.36 L129.60,375.38 L128.99,375.39 L128.38,375.41 L127.76,375.42 L127.15,375.44 L126.54,375.45 L125.93,375.46 L125.31,375.48 L124.70,375.49 L124.09,375.51 L123.47,375.52 L122.86,375.53 L122.25,375.55 L121.63,375.56 L121.02,375.58 L120.41,375.59 L119.79,375.60 L119.18,375.62 L118.57,375.63 L117.95,375.65 L117.34,375.66 L116.73,375.67 L116.11,375.69 L115.50,375.70 L114.89,375.72 L114.28,375.73 L113.66,375.75 L113.05,375.76 L112.44,375.77 L111.82,375.79 L111.21,375.80 L110.60,375.82 L109.98,375.83 L109.37,375.84 L108.76,375.86 L108.14,375.87 L107.53,375.89 L106.92,375.90 L106.30,375.91 L105.69,375.93 L105.08,375.94 L104.47,375.96 L103.85,375.97 L103.24,375.99 L102.63,376.00 L102.01,376.01 L101.40,376.03 L100.79,376.04 L100.17,376.06 L99.56,376.07 L98.95,376.08 L98.33,376.10 L97.72,376.11 L97.11,376.13 L96.49,376.14 L95.88,376.15 L95.27,376.17 L94.65,376.18 L94.04,376.20 L93.43,376.21 L92.82,376.23 L92.20,376.24 L91.59,376.25 L90.98,376.27 L90.36,376.28 L89.75,376.30 L89.14,376.31 L88.52,376.32 L87.91,376.34 L87.30,376.35 L86.68,376.37 L86.07,376.38 L85.46,376.39 L84.84,376.41 L84.23,376.42 L83.62,376.44 L83.00,376.45 L82.39,376.47 L81.78,376.48 L81.17,376.49 L80.55,376.51 L79.94,376.52 L79.33,376.54 L78.71,376.55 L78.10,376.56 L77.49,376.58 L76.87,376.59 L76.26,376.61 L75.65,376.62 L75.03,376.63 L74.42,376.65 L73.81,376.66 L73.19,376.68 L72.58,376.69 L71.97,376.70 L71.36,376.72 L70.74,376.73 L70.13,376.75 L69.52,376.76 L68.90,376.78 L68.29,376.79 L67.68,376.80 L67.06,376.82 L66.45,376.83 L65.84,376.85 L65.22,376.86 L64.61,376.87 L64.00,376.89 L63.38,376.90 L62.77,376.92 L62.16,376.93 L61.54,376.94 L60.93,376.96 L60.32,376.97 L59.71,376.99 L59.09,377.00 L58.48,377.02 L57.87,377.03 L57.25,377.04 L56.64,377.06 L56.03,377.07 L55.41,377.09 L54.80,377.10Z" fill="#ff0000" stroke="#ff0000" stroke-width="0.4"/>
<path d="M54.80,377.10 L55.41,377.09 L56.03,377.07 L56.64,377.06 L57.25,377.04 L57.87,377.03 L58.48,377.02 L59.09,377.00 L59.71,376.99 L60.32,376.97 L60.93,376.96 L61.54,376.94 L62.16,376.93 L62.77,376.92 L63.38,376.90 L64.00,376.89 L64.61,376.87 L65.22,376.86 L65.84,376.85 L66.45,376.83 L67.06,376.82 L67.68,376.80 L68.29,376.79 L68.90,376.78 L69.52,376.76 L70.13,376.75 L70.74,376.73 L71.36,376.72 L71.97,376.70 L72.58,376.69 L73.19,376.68 L73.81,376.66 L74.42,376.65 L75.03,376.63 L75.65,376.62 L76.26,376.61 L76.87,376.59 L77.49,376.58 L78.10,376.56 L78.71,376.55 L79.33,376.54 L79.94,376.52 L80.55,376.51 L81.17,376.49 L81.78,376.48 L82.39,376.47 L83.00,376.45 L83.62,376.44 L84.23,376.42 L84.84,376.41 L85.46,376.39 L86.07,376.38 L86.68,376.37 L87.30,376.35 L87.91,376.34 L88.52,376.32 L89.14,376.31 L89.75,376.30 L90.36,376.28 L90.98,376.27 L91.59,376.25 L92.20,376.24 L92.82,376.23 L93.43,376.21 L94.04,376.20 L94.65,376.18 L95.27,376.17 L95.88,376.15 L96.49,376.14 L97.11,376.13 L97.72,376.11 L98.33,376.10 L98.95,376.08 L99.56,376.07 L100.17,376.06 L100.79,376.04 L101.40,376.03 L102.01,376.01 L102.63,376.00 L103.24,375.99 L103.85,375.97 L104.47,375.96 L105.08,375.94 L105.69,375.93 L106.30,375.91 L106.92,375.90 L107.53,375.89 L108.14,375.87 L108.76,375.86 L109.37,375.84 L109.98,375.83 L110.60,375.82 L111.21,375.80 L111.82,375.79 L112.44,375.77 L113.05,375.76 L113.66,375.75 L114.28,375.73 L114.89,375.72 L115.50,375.70 L116.11,375.69 L116.73,375.67 L117.34,375.66 L117.95,375.65 L118.57,375.63 L119.18,375.62 L119.79,375.60 L120.41,375.59 L121.02,375.58 L121.63,375.56 L122.25,375.55 L122.86,375.53 L123.47,375.52 L124.09,375.51 L124.70,375.49 L125.31,375.48 L125.93,375.46 L126.54,375.45 L127.15,375.44 L127.76,375.42 L128.38,375.41 L128.99,375.39 L129.60,375.38 L130.22,375.36 L130.83,375.35 L131.44,375.34 L132.06,375.32 L132.67,375.31 L133.28,375.29 L133.90,375.28 L134.51,375.27 L135.12,375.25 L135.74,375.24 L136.35,375.22 L136.96,375.21 L137.58,375.20 L138.19,375.18 L138.80,375.17 L139.41,375.15 L140.03,375.14 L140.64,375.12 L141.25,375.11 L141.87,375.10 L142.48,375.08 L143.09,375.07 L143.71,375.05 L144.32,375.04 L144.93,375.03 L145.55,375.01 L146.16,375.00 L146.77,374.98 L147.39,374.97 L148.00,374.96 L148.61,374.94 L149.22,374.93 L149.84,374.91 L150.45,374.90 L151.06,374.88 L151.68,374.87 L152.29,374.86 L152.90,374.84 L153.52,374.83 L154.13,374.81 L154.74,374.80 L155.36,374.79 L155.97,374.77 L156.58,374.76 L157.20,374.74 L157.81,374.73 L158.42,374.72 L159.04,374.70 L159.65,374.69 L160.26,374.67 L160.87,374.66 L161.49,374.65 L162.10,374.63 L162.71,374.62 L163.33,374.60 L163.94,374.59 L164.55,374.57 L165.17,374.56 L165.78,374.55 L166.39,374.53 L167.01,374.52 L167.62,374.50 L168.23,374.49 L168.85,374.48 L169.46,374.46 L170.07,374.45 L170.69,374.43 L171.30,374.42 L171.91,374.41 L172.52,374.39 L173.14,374.38 L173.75,374.36 L174.36,374.35 L174.98,374.33 L175.59,374.32 L176.20,374.31 L176.82,374.29 L177.43,374.28 L178.04,374.26 L178.66,374.25 L179.27,374.24 L179.88,374.22 L180.50,374.21 L181.11,374.19 L181.72,374.18 L182.33,374.17 L182.95,374.15 L183.56,374.14 L184.17,374.12 L184.79,374.11 L185.40,374.09 L186.01,374.08 L186.63,374.07 L187.24,374.05 L187.85,374.04 L188.47,374.02 L189.08,374.01 L189.69,374.00 L190.31,373.98 L190.92,373.97 L191.53,373.95 L192.15,373.94 L192.76,373.93 L193.37,373.91 L193.98,373.90 L194.60,373.88 L195.21,373.87 L195.82,373.85 L196.44,373.84 L197.05,373.83 L197.66,373.81 L198.28,373.80 L198.89,373.78 L199.50,373.77 L200.12,373.76 L200.73,373.74 L201.34,373.73 L201.96,373.71 L202.57,373.70 L203.18,373.69 L203.80,373.67 L204.41,373.66 L205.02,373.64 L205.63,373.63 L206.25,373.62 L206.86,373.60 L207.47,373.59 L208.09,373.57 L208.70,373.56 L209.31,373.54 L209.93,373.53 L210.54,373.52 L210.54,373.84 L209.93,374.18 L209.31,374.52 L208.70,374.85 L208.09,375.19 L207.47,375.52 L206.86,375.84 L206.25,376.17 L205.63,376.49 L205.02,376.81 L204.41,377.13 L203.80,377.44 L203.18,377.75 L202.57,378.06 L201.96,378.37 L201.34,378.68 L200.73,378.98 L200.12,379.28 L199.50,379.58 L198.89,379.88 L198.28,380.17 L197.66,380.46 L197.05,380.75 L196.44,381.04 L195.82,381.33 L195.21,381.61 L194.60,381.89 L193.98,382.17 L193.37,382.45 L192.76,382.72 L192.15,383.00 L191.53,383.27 L190.92,383.54 L190.31,383.81 L189.69,384.07 L189.08,384.34 L188.47,384.60 L187.85,384.86 L187.24,385.12 L186.63,385.38 L186.01,385.63 L185.40,385.89 L184.79,386.14 L184.17,386.39 L183.56,386.64 L182.95,386.88 L182.33,387.13 L181.72,387.37 L181.11,387.61 L180.50,387.85 L179.88,388.09 L179.27,388.33 L178.66,388.56 L178.04,388.80 L177.43,389.03 L176.82,389.26 L176.20,389.49 L175.59,389.72 L174.98,389.94 L174.36,390.17 L173.75,390.39 L173.14,390.61 L172.52,390.84 L171.91,391.05 L171.30,391.27 L170.69,391.49 L170.07,391.70 L169.46,391.92 L168.85,392.13 L168.23,392.34 L167.62,392.55 L167.01,392.76 L166.39,392.97 L165.78,393.17 L165.17,393.38 L164.55,393.58 L163.94,393.78 L163.33,393.98 L162.71,394.18 L162.10,394.38 L161.49,394.58 L160.87,394.78 L160.26,394.97 L159.65,395.17 L159.04,395.36 L158.42,395.55 L157.81,395.74 L157.20,395.93 L156.58,396.12 L155.97,396.30 L155.36,396.49 L154.74,396.68 L154.13,396.86 L153.52,397.04 L152.90,397.22 L152.29,397.40 L151.68,397.58 L151.06,397.76 L150.45,397.94 L149.84,398.12 L149.22,398.29 L148.61,398.47 L148.00,398.64 L147.39,398.81 L146.77,398.98 L146.16,399.15 L145.55,399.32 L144.93,399.49 L144.32,399.66 L143.71,399.83 L143.09,399.99 L142.48,400.16 L141.87,400.32 L141.25,400.49 L140.64,400.65 L140.03,400.81 L139.41,400.97 L138.80,401.13 L138.19,401.29 L137.58,401.45 L136.96,401.60 L136.35,401.76 L135.74,401.92 L135.12,402.07 L134.51,402.22 L133.90,402.38 L133.28,402.53 L132.67,402.68 L132.06,402.83 L131.44,402.98 L130.83,403.13 L130.22,403.28 L129.60,403.43 L128.99,403.57 L128.38,403.72 L127.76,403.86 L127.15,404.01 L126.54,404.15 L125.93,404.29 L125.31,404.44 L124.70,404.58 L124.09,404.72 L123.47,404.86 L122.86,405.00 L122.25,405.14 L121.63,405.28 L121.02,405.41 L120.41,405.55 L119.79,405.69 L119.18,405.82 L118.57,405.95 L117.95,406.09 L117.34,406.22 L116.73,406.35 L116.11,406.49 L115.50,406.62 L114.89,406.75 L114.28,406.88 L113.66,407.01 L113.05,407.14 L112.44,407.26 L111.82,407.39 L111.21,407.52 L110.60,407.64 L109.98,407.77 L109.37,407.90 L108.76,408.02 L108.14,408.14 L107.53,408.27 L106.92,408.39 L106.30,408.51 L105.69,408.63 L105.08,408.75 L104.47,408.87 L103.85,408.99 L103.24,409.11 L102.63,409.23 L102.01,409.35 L101.40,409.47 L100.79,409.58 L100.17,409.70 L99.56,409.82 L98.95,409.93 L98.33,410.05 L97.72,410.16 L97.11,410.28 L96.49,410.39 L95.88,410.50 L95.27,410.61 L94.65,410.73 L94.04,410.84 L93.43,410.95 L92.82,411.06 L92.20,411.17 L91.59,411.28 L90.98,411.39 L90.36,411.49 L89.75,411.60 L89.14,411.71 L88.52,411.82 L87.91,411.92 L87.30,412.03 L86.68,412.13 L86.07,412.24 L85.46,412.34 L84.84,412.45 L84.23,412.55 L83.62,412.65 L83.00,412.76 L82.39,412.86 L81.78,412.96 L81.17,413.06 L80.55,413.16 L79.94,413.26 L79.33,413.36 L78.71,413.46 L78.10,413.56 L77.49,413.66 L76.87,413.76 L76.26,413.86 L75.65,413.96 L75.03,414.05 L74.42,414.15 L73.81,414.25 L73.19,414.34 L72.58,414.44 L71.97,414.53 L71.36,414.63 L70.74,414.72 L70.13,414.82 L69.52,414.91 L68.90,415.00 L68.29,415.09 L67.68,415.19 L67.06,415.28 L66.45,415.37 L65.84,415.46 L65.22,415.55 L64.61,415.64 L64.00,415.73 L63.38,415.82 L62.77,415.91 L62.16,416.00 L61.54,416.09 L60.93,416.18 L60.32,416.27 L59.71,416.35 L59.09,416.44 L58.48,416.53 L57.87,416.62 L57.25,416.70 L56.64,416.79 L56.03,416.87 L55.41,416.96 L54.80,417.04Z" fill="#ff9900" stroke="#ff9900" stroke-width="0.4"/>
<line x1="118.62" y1="405.94" x2="118.62" y2="351.99" stroke="#402000" stroke-width="0.6" opacity="0.05"/>
<line x1="166.49" y1="348.43" x2="166.49" y2="325.97" stroke="#402000" stroke-width="0.6" opacity="0.05"/>
<line x1="210.36" y1="373.94" x2="210.36" y2="347.41" stroke="#402000" stroke-width="0.6" opacity="0.05"/>
<rect x="48.50" y="259.90" width="323.20" height="200.00" fill="none" stroke="#111111" stroke-width="1.25"/>
<line x1="54.80" y1="460.00" x2="365.04" y2="460.00" stroke="#980000" stroke-width="2"/>
<line x1="54.80" y1="459.50" x2="365.04" y2="459.50" stroke="#000000" stroke-width="1" opacity="0.5"/>
<path d="M54.80,459.90v-4.40M54.80,259.90v4.40M63.66,459.90v-2.80M63.66,259.90v2.80M72.53,459.90v-2.80M72.53,259.90v2.80M81.39,459.90v-2.80M81.39,259.90v2.80M90.26,459.90v-2.80M90.26,259.90v2.80M99.12,459.90v-4.40M99.12,259.90v4.40M107.98,459.90v-2.80M107.98,259.90v2.80M116.85,459.90v-2.80M116.85,259.90v2.80M125.71,459.90v-2.80M125.71,259.90v2.80M134.58,459.90v-2.80M134.58,259.90v2.80M143.44,459.90v-4.40M143.44,259.90v4.40M152.30,459.90v-2.80M152.30,259.90v2.80M161.17,459.90v-2.80M161.17,259.90v2.80M170.03,459.90v-2.80M170.03,259.90v2.80M178.90,459.90v-2.80M178.90,259.90v2.80M187.76,459.90v-4.40M187.76,259.90v4.40M196.62,459.90v-2.80M196.62,259.90v2.80M205.49,459.90v-2.80M205.49,259.90v2.80M214.35,459.90v-2.80M214.35,259.90v2.80M223.22,459.90v-2.80M223.22,259.90v2.80M232.08,459.90v-4.40M232.08,259.90v4.40M240.94,459.90v-2.80M240.94,259.90v2.80M249.81,459.90v-2.80M249.81,259.90v2.80M258.67,459.90v-2.80M258.67,259.90v2.80M267.54,459.90v-2.80M267.54,259.90v2.80M276.40,459.90v-4.40M276.40,259.90v4.40M285.26,459.90v-2.80M285.26,259.90v2.80M294.13,459.90v-2.80M294.13,259.90v2.80M302.99,459.90v-2.80M302.99,259.90v2.80M311.86,459.90v-2.80M311.86,259.90v2.80M320.72,459.90v-4.40M320.72,259.90v4.40M329.58,459.90v-2.80M329.58,259.90v2.80M338.45,459.90v-2.80M338.45,259.90v2.80M347.31,459.90v-2.80M347.31,259.90v2.80M356.18,459.90v-2.80M356.18,259.90v2.80M365.04,459.90v-4.40M365.04,259.90v4.40M48.50,459.90h4.40M371.70,459.90h-4.40M48.50,449.90h2.80M371.70,449.90h-2.80M48.50,439.90h2.80M371.70,439.90h-2.80M48.50,429.90h2.80M371.70,429.90h-2.80M48.50,419.90h4.40M371.70,419.90h-4.40M48.50,409.90h2.80M371.70,409.90h-2.80M48.50,399.90h2.80M371.70,399.90h-2.80M48.50,389.90h2.80M371.70,389.90h-2.80M48.50,379.90h4.40M371.70,379.90h-4.40M48.50,369.90h2.80M371.70,369.90h-2.80M48.50,359.90h2.80M371.70,359.90h-2.80M48.50,349.90h2.80M371.70,349.90h-2.80M48.50,339.90h4.40M371.70,339.90h-4.40M48.50,329.90h2.80M371.70,329.90h-2.80M48.50,319.90h2.80M371.70,319.90h-2.80M48.50,309.90h2.80M371.70,309.90h-2.80M48.50,299.90h4.40M371.70,299.90h-4.40M48.50,289.90h2.80M371.70,289.90h-2.80M48.50,279.90h2.80M371.70,279.90h-2.80M48.50,269.90h2.80M371.70,269.90h-2.80M48.50,259.90h4.40M371.70,259.90h-4.40" stroke="#111111" stroke-width="1" fill="none"/>
<text x="54.80" y="472.00" text-anchor="middle" class="tl">0.93</text>
<text x="99.12" y="472.00" text-anchor="middle" class="tl">0.94</text>
<text x="143.44" y="472.00" text-anchor="middle" class="tl">0.95</text>
<text x="187.76" y="472.00" text-anchor="middle" class="tl">0.96</text>
<text x="232.08" y="472.00" text-anchor="middle" class="tl">0.97</text>
<text x="276.40" y="472.00" text-anchor="middle" class="tl">0.98</text>
<text x="320.72" y="472.00" text-anchor="middle" class="tl">0.99</text>
<text x="365.04" y="472.00" text-anchor="middle" class="tl">1.00</text>
<text x="45.20" y="463.00" text-anchor="end" class="tl">0</text>
<text x="45.20" y="423.00" text-anchor="end" class="tl">20</text>
<text x="45.20" y="383.00" text-anchor="end" class="tl">40</text>
<text x="45.20" y="343.00" text-anchor="end" class="tl">60</text>
<text x="45.20" y="303.00" text-anchor="end" class="tl">80</text>
<text x="45.20" y="263.00" text-anchor="end" class="tl">100</text>
<text x="210.40" y="494.70" text-anchor="middle" class="al">n<tspan class="sub" dy="3.5">s</tspan></text>
<text transform="translate(13.90,360.30) rotate(-90)" text-anchor="middle" class="al">N<tspan class="sub" dy="3.5">k</tspan></text>
<text x="68.00" y="284.00" class="pl">p=4</text>
</svg>
</body></html>
